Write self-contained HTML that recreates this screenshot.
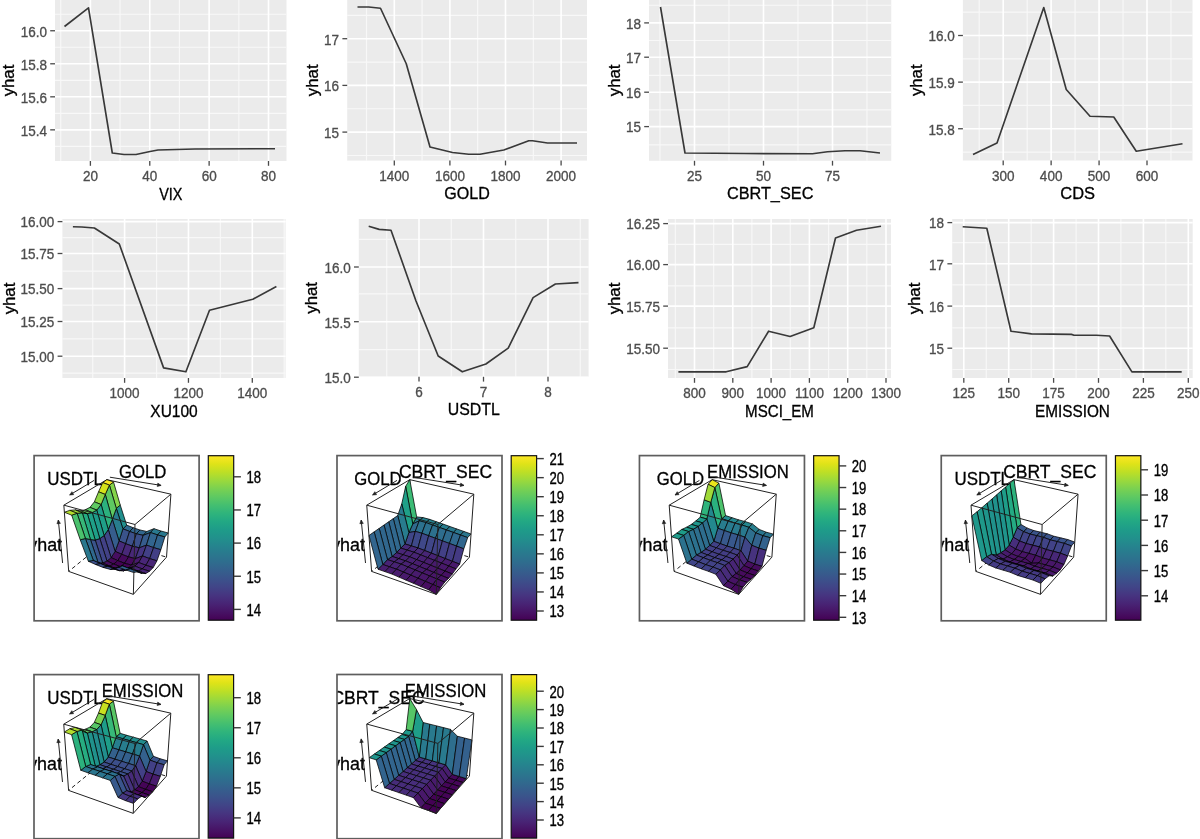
<!DOCTYPE html>
<html><head><meta charset="utf-8"><style>
html,body{margin:0;padding:0;background:#fff;}
svg{display:block;filter:blur(0.3px);}
text{font-family:'Liberation Sans', sans-serif;}
.tk{font-size:13.5px;fill:#4D4D4D;stroke:#4D4D4D;stroke-width:0.3px;}
.ti{font-size:15.6px;fill:#000;stroke:#000;stroke-width:0.3px;}
.yt{font-size:16.8px;fill:#000;stroke:#000;stroke-width:0.3px;}
.cb{font-size:13.1px;fill:#000;stroke:#000;stroke-width:0.3px;}
.lab3{font-size:17.9px;fill:#000;stroke:#000;stroke-width:0.3px;}
</style></head><body>
<svg width="1200" height="839" viewBox="0 0 1200 839">
<defs><linearGradient id="vir" x1="0" y1="1" x2="0" y2="0"><stop offset="0" stop-color="#440154"/><stop offset="0.05" stop-color="#471365"/><stop offset="0.1" stop-color="#482475"/><stop offset="0.15" stop-color="#463480"/><stop offset="0.2" stop-color="#414487"/><stop offset="0.25" stop-color="#3b528b"/><stop offset="0.3" stop-color="#355f8d"/><stop offset="0.35" stop-color="#2f6c8e"/><stop offset="0.4" stop-color="#2a788e"/><stop offset="0.45" stop-color="#25848e"/><stop offset="0.5" stop-color="#21918c"/><stop offset="0.55" stop-color="#1e9c89"/><stop offset="0.6" stop-color="#22a884"/><stop offset="0.65" stop-color="#2fb47c"/><stop offset="0.7" stop-color="#44bf70"/><stop offset="0.75" stop-color="#5ec962"/><stop offset="0.8" stop-color="#7ad151"/><stop offset="0.85" stop-color="#9bd93c"/><stop offset="0.9" stop-color="#bddf26"/><stop offset="0.95" stop-color="#dfe318"/><stop offset="1" stop-color="#fde725"/></linearGradient><clipPath id="clip1"><rect x="34.1" y="455.6" width="165" height="165.2"/></clipPath><clipPath id="clip2"><rect x="337" y="455.6" width="165" height="165.2"/></clipPath><clipPath id="clip3"><rect x="639.45" y="455.6" width="165" height="165.2"/></clipPath><clipPath id="clip4"><rect x="941.25" y="455.6" width="165" height="165.2"/></clipPath><clipPath id="clip5"><rect x="34" y="674.6" width="165" height="164.1"/></clipPath><clipPath id="clip6"><rect x="337" y="674.5" width="165" height="164.2"/></clipPath></defs>
<rect x="55" y="0" width="231.5" height="161" fill="#EBEBEB"/>
<line x1="55" x2="286.5" y1="14.23" y2="14.23" stroke="#f8f8f8" stroke-width="1.15"/>
<line x1="55" x2="286.5" y1="47.27" y2="47.27" stroke="#f8f8f8" stroke-width="1.15"/>
<line x1="55" x2="286.5" y1="80.3" y2="80.3" stroke="#f8f8f8" stroke-width="1.15"/>
<line x1="55" x2="286.5" y1="113.33" y2="113.33" stroke="#f8f8f8" stroke-width="1.15"/>
<line x1="55" x2="286.5" y1="146.37" y2="146.37" stroke="#f8f8f8" stroke-width="1.15"/>
<line y1="0" y2="161" x1="60.72" x2="60.72" stroke="#f8f8f8" stroke-width="1.15"/>
<line y1="0" y2="161" x1="120.08" x2="120.08" stroke="#f8f8f8" stroke-width="1.15"/>
<line y1="0" y2="161" x1="179.45" x2="179.45" stroke="#f8f8f8" stroke-width="1.15"/>
<line y1="0" y2="161" x1="238.82" x2="238.82" stroke="#f8f8f8" stroke-width="1.15"/>
<line x1="55" x2="286.5" y1="30.75" y2="30.75" stroke="#fff" stroke-width="1.6"/>
<line x1="55" x2="286.5" y1="63.78" y2="63.78" stroke="#fff" stroke-width="1.6"/>
<line x1="55" x2="286.5" y1="96.82" y2="96.82" stroke="#fff" stroke-width="1.6"/>
<line x1="55" x2="286.5" y1="129.85" y2="129.85" stroke="#fff" stroke-width="1.6"/>
<line y1="0" y2="161" x1="90.4" x2="90.4" stroke="#fff" stroke-width="1.6"/>
<line y1="0" y2="161" x1="149.77" x2="149.77" stroke="#fff" stroke-width="1.6"/>
<line y1="0" y2="161" x1="209.13" x2="209.13" stroke="#fff" stroke-width="1.6"/>
<line y1="0" y2="161" x1="268.5" x2="268.5" stroke="#fff" stroke-width="1.6"/>
<polyline points="64.5,26.5 88.5,7.8 112.3,153 124,154.5 136,154.5 150,151.5 158,150 195,149 275,148.7" fill="none" stroke="#383838" stroke-width="1.65" stroke-linejoin="round"/>
<line x1="50.2" x2="55" y1="30.75" y2="30.75" stroke="#4a4a4a" stroke-width="1.3"/>
<text transform="translate(46.9,36.55) scale(1,1.07)" text-anchor="end" class="tk">16.0</text>
<line x1="50.2" x2="55" y1="63.78" y2="63.78" stroke="#4a4a4a" stroke-width="1.3"/>
<text transform="translate(46.9,69.58) scale(1,1.07)" text-anchor="end" class="tk">15.8</text>
<line x1="50.2" x2="55" y1="96.82" y2="96.82" stroke="#4a4a4a" stroke-width="1.3"/>
<text transform="translate(46.9,102.62) scale(1,1.07)" text-anchor="end" class="tk">15.6</text>
<line x1="50.2" x2="55" y1="129.85" y2="129.85" stroke="#4a4a4a" stroke-width="1.3"/>
<text transform="translate(46.9,135.65) scale(1,1.07)" text-anchor="end" class="tk">15.4</text>
<line y1="161" y2="165.8" x1="90.4" x2="90.4" stroke="#4a4a4a" stroke-width="1.3"/>
<text transform="translate(90.4,181.4) scale(1,1.07)" text-anchor="middle" class="tk">20</text>
<line y1="161" y2="165.8" x1="149.77" x2="149.77" stroke="#4a4a4a" stroke-width="1.3"/>
<text transform="translate(149.77,181.4) scale(1,1.07)" text-anchor="middle" class="tk">40</text>
<line y1="161" y2="165.8" x1="209.13" x2="209.13" stroke="#4a4a4a" stroke-width="1.3"/>
<text transform="translate(209.13,181.4) scale(1,1.07)" text-anchor="middle" class="tk">60</text>
<line y1="161" y2="165.8" x1="268.5" x2="268.5" stroke="#4a4a4a" stroke-width="1.3"/>
<text transform="translate(268.5,181.4) scale(1,1.07)" text-anchor="middle" class="tk">80</text>
<text transform="translate(170.75,199.6) scale(1,1.1)" text-anchor="middle" class="ti" textLength="23.2" lengthAdjust="spacingAndGlyphs">VIX</text>
<text transform="translate(14,80.5) rotate(-90)" text-anchor="middle" class="yt">yhat</text>
<rect x="347.2" y="0" width="239.8" height="160.6" fill="#EBEBEB"/>
<line x1="347.2" x2="587" y1="15.35" y2="15.35" stroke="#f8f8f8" stroke-width="1.15"/>
<line x1="347.2" x2="587" y1="62.05" y2="62.05" stroke="#f8f8f8" stroke-width="1.15"/>
<line x1="347.2" x2="587" y1="108.75" y2="108.75" stroke="#f8f8f8" stroke-width="1.15"/>
<line x1="347.2" x2="587" y1="155.45" y2="155.45" stroke="#f8f8f8" stroke-width="1.15"/>
<line y1="0" y2="160.6" x1="366.5" x2="366.5" stroke="#f8f8f8" stroke-width="1.15"/>
<line y1="0" y2="160.6" x1="422.1" x2="422.1" stroke="#f8f8f8" stroke-width="1.15"/>
<line y1="0" y2="160.6" x1="477.7" x2="477.7" stroke="#f8f8f8" stroke-width="1.15"/>
<line y1="0" y2="160.6" x1="533.3" x2="533.3" stroke="#f8f8f8" stroke-width="1.15"/>
<line x1="347.2" x2="587" y1="38.7" y2="38.7" stroke="#fff" stroke-width="1.6"/>
<line x1="347.2" x2="587" y1="85.4" y2="85.4" stroke="#fff" stroke-width="1.6"/>
<line x1="347.2" x2="587" y1="132.1" y2="132.1" stroke="#fff" stroke-width="1.6"/>
<line y1="0" y2="160.6" x1="394.3" x2="394.3" stroke="#fff" stroke-width="1.6"/>
<line y1="0" y2="160.6" x1="449.9" x2="449.9" stroke="#fff" stroke-width="1.6"/>
<line y1="0" y2="160.6" x1="505.5" x2="505.5" stroke="#fff" stroke-width="1.6"/>
<line y1="0" y2="160.6" x1="561.1" x2="561.1" stroke="#fff" stroke-width="1.6"/>
<polyline points="357.5,7 368.75,7 380.5,8.25 406.25,63.75 430,147 452.5,152.5 468.75,154.25 480,154.25 503.75,150 528.75,140.75 532.5,140.75 547.5,143 577,143" fill="none" stroke="#383838" stroke-width="1.65" stroke-linejoin="round"/>
<line x1="342.4" x2="347.2" y1="38.7" y2="38.7" stroke="#4a4a4a" stroke-width="1.3"/>
<text transform="translate(339.1,44.5) scale(1,1.07)" text-anchor="end" class="tk">17</text>
<line x1="342.4" x2="347.2" y1="85.4" y2="85.4" stroke="#4a4a4a" stroke-width="1.3"/>
<text transform="translate(339.1,91.2) scale(1,1.07)" text-anchor="end" class="tk">16</text>
<line x1="342.4" x2="347.2" y1="132.1" y2="132.1" stroke="#4a4a4a" stroke-width="1.3"/>
<text transform="translate(339.1,137.9) scale(1,1.07)" text-anchor="end" class="tk">15</text>
<line y1="160.6" y2="165.4" x1="394.3" x2="394.3" stroke="#4a4a4a" stroke-width="1.3"/>
<text transform="translate(394.3,181) scale(1,1.07)" text-anchor="middle" class="tk">1400</text>
<line y1="160.6" y2="165.4" x1="449.9" x2="449.9" stroke="#4a4a4a" stroke-width="1.3"/>
<text transform="translate(449.9,181) scale(1,1.07)" text-anchor="middle" class="tk">1600</text>
<line y1="160.6" y2="165.4" x1="505.5" x2="505.5" stroke="#4a4a4a" stroke-width="1.3"/>
<text transform="translate(505.5,181) scale(1,1.07)" text-anchor="middle" class="tk">1800</text>
<line y1="160.6" y2="165.4" x1="561.1" x2="561.1" stroke="#4a4a4a" stroke-width="1.3"/>
<text transform="translate(561.1,181) scale(1,1.07)" text-anchor="middle" class="tk">2000</text>
<text transform="translate(467.1,199.2) scale(1,1.1)" text-anchor="middle" class="ti" textLength="45.5" lengthAdjust="spacingAndGlyphs">GOLD</text>
<text transform="translate(317.5,80.3) rotate(-90)" text-anchor="middle" class="yt">yhat</text>
<rect x="649" y="0" width="242.25" height="160.8" fill="#EBEBEB"/>
<line x1="649" x2="891.25" y1="5.2" y2="5.2" stroke="#f8f8f8" stroke-width="1.15"/>
<line x1="649" x2="891.25" y1="40.5" y2="40.5" stroke="#f8f8f8" stroke-width="1.15"/>
<line x1="649" x2="891.25" y1="75.3" y2="75.3" stroke="#f8f8f8" stroke-width="1.15"/>
<line x1="649" x2="891.25" y1="109.9" y2="109.9" stroke="#f8f8f8" stroke-width="1.15"/>
<line x1="649" x2="891.25" y1="144.8" y2="144.8" stroke="#f8f8f8" stroke-width="1.15"/>
<line y1="0" y2="160.8" x1="660" x2="660" stroke="#f8f8f8" stroke-width="1.15"/>
<line y1="0" y2="160.8" x1="729" x2="729" stroke="#f8f8f8" stroke-width="1.15"/>
<line y1="0" y2="160.8" x1="798" x2="798" stroke="#f8f8f8" stroke-width="1.15"/>
<line y1="0" y2="160.8" x1="867" x2="867" stroke="#f8f8f8" stroke-width="1.15"/>
<line x1="649" x2="891.25" y1="22.9" y2="22.9" stroke="#fff" stroke-width="1.6"/>
<line x1="649" x2="891.25" y1="57.2" y2="57.2" stroke="#fff" stroke-width="1.6"/>
<line x1="649" x2="891.25" y1="92.2" y2="92.2" stroke="#fff" stroke-width="1.6"/>
<line x1="649" x2="891.25" y1="126.6" y2="126.6" stroke="#fff" stroke-width="1.6"/>
<line y1="0" y2="160.8" x1="694.5" x2="694.5" stroke="#fff" stroke-width="1.6"/>
<line y1="0" y2="160.8" x1="763.5" x2="763.5" stroke="#fff" stroke-width="1.6"/>
<line y1="0" y2="160.8" x1="832.5" x2="832.5" stroke="#fff" stroke-width="1.6"/>
<polyline points="660.5,7 685,153 745,153.5 812.5,153.75 827.5,151.75 845,150.75 860,150.75 880,153" fill="none" stroke="#383838" stroke-width="1.65" stroke-linejoin="round"/>
<line x1="644.2" x2="649" y1="22.9" y2="22.9" stroke="#4a4a4a" stroke-width="1.3"/>
<text transform="translate(640.9,28.7) scale(1,1.07)" text-anchor="end" class="tk">18</text>
<line x1="644.2" x2="649" y1="57.2" y2="57.2" stroke="#4a4a4a" stroke-width="1.3"/>
<text transform="translate(640.9,63) scale(1,1.07)" text-anchor="end" class="tk">17</text>
<line x1="644.2" x2="649" y1="92.2" y2="92.2" stroke="#4a4a4a" stroke-width="1.3"/>
<text transform="translate(640.9,98) scale(1,1.07)" text-anchor="end" class="tk">16</text>
<line x1="644.2" x2="649" y1="126.6" y2="126.6" stroke="#4a4a4a" stroke-width="1.3"/>
<text transform="translate(640.9,132.4) scale(1,1.07)" text-anchor="end" class="tk">15</text>
<line y1="160.8" y2="165.6" x1="694.5" x2="694.5" stroke="#4a4a4a" stroke-width="1.3"/>
<text transform="translate(694.5,181.2) scale(1,1.07)" text-anchor="middle" class="tk">25</text>
<line y1="160.8" y2="165.6" x1="763.5" x2="763.5" stroke="#4a4a4a" stroke-width="1.3"/>
<text transform="translate(763.5,181.2) scale(1,1.07)" text-anchor="middle" class="tk">50</text>
<line y1="160.8" y2="165.6" x1="832.5" x2="832.5" stroke="#4a4a4a" stroke-width="1.3"/>
<text transform="translate(832.5,181.2) scale(1,1.07)" text-anchor="middle" class="tk">75</text>
<text transform="translate(770.12,199.4) scale(1,1.1)" text-anchor="middle" class="ti" textLength="86.5" lengthAdjust="spacingAndGlyphs">CBRT_SEC</text>
<text transform="translate(619.5,80.4) rotate(-90)" text-anchor="middle" class="yt">yhat</text>
<rect x="962.9" y="0" width="229.6" height="160.5" fill="#EBEBEB"/>
<line x1="962.9" x2="1192.5" y1="12.19" y2="12.19" stroke="#f8f8f8" stroke-width="1.15"/>
<line x1="962.9" x2="1192.5" y1="58.81" y2="58.81" stroke="#f8f8f8" stroke-width="1.15"/>
<line x1="962.9" x2="1192.5" y1="105.44" y2="105.44" stroke="#f8f8f8" stroke-width="1.15"/>
<line x1="962.9" x2="1192.5" y1="152.06" y2="152.06" stroke="#f8f8f8" stroke-width="1.15"/>
<line y1="0" y2="160.5" x1="979.23" x2="979.23" stroke="#f8f8f8" stroke-width="1.15"/>
<line y1="0" y2="160.5" x1="1027.17" x2="1027.17" stroke="#f8f8f8" stroke-width="1.15"/>
<line y1="0" y2="160.5" x1="1075.1" x2="1075.1" stroke="#f8f8f8" stroke-width="1.15"/>
<line y1="0" y2="160.5" x1="1123.03" x2="1123.03" stroke="#f8f8f8" stroke-width="1.15"/>
<line y1="0" y2="160.5" x1="1170.97" x2="1170.97" stroke="#f8f8f8" stroke-width="1.15"/>
<line x1="962.9" x2="1192.5" y1="35.5" y2="35.5" stroke="#fff" stroke-width="1.6"/>
<line x1="962.9" x2="1192.5" y1="82.12" y2="82.12" stroke="#fff" stroke-width="1.6"/>
<line x1="962.9" x2="1192.5" y1="128.75" y2="128.75" stroke="#fff" stroke-width="1.6"/>
<line y1="0" y2="160.5" x1="1003.2" x2="1003.2" stroke="#fff" stroke-width="1.6"/>
<line y1="0" y2="160.5" x1="1051.13" x2="1051.13" stroke="#fff" stroke-width="1.6"/>
<line y1="0" y2="160.5" x1="1099.07" x2="1099.07" stroke="#fff" stroke-width="1.6"/>
<line y1="0" y2="160.5" x1="1147" x2="1147" stroke="#fff" stroke-width="1.6"/>
<polyline points="973,154.5 997,143 1043.75,7.5 1066.25,89.5 1090,116.25 1113.75,117 1136.25,151.25 1182.5,143.75" fill="none" stroke="#383838" stroke-width="1.65" stroke-linejoin="round"/>
<line x1="958.1" x2="962.9" y1="35.5" y2="35.5" stroke="#4a4a4a" stroke-width="1.3"/>
<text transform="translate(954.8,41.3) scale(1,1.07)" text-anchor="end" class="tk">16.0</text>
<line x1="958.1" x2="962.9" y1="82.12" y2="82.12" stroke="#4a4a4a" stroke-width="1.3"/>
<text transform="translate(954.8,87.92) scale(1,1.07)" text-anchor="end" class="tk">15.9</text>
<line x1="958.1" x2="962.9" y1="128.75" y2="128.75" stroke="#4a4a4a" stroke-width="1.3"/>
<text transform="translate(954.8,134.55) scale(1,1.07)" text-anchor="end" class="tk">15.8</text>
<line y1="160.5" y2="165.3" x1="1003.2" x2="1003.2" stroke="#4a4a4a" stroke-width="1.3"/>
<text transform="translate(1003.2,180.9) scale(1,1.07)" text-anchor="middle" class="tk">300</text>
<line y1="160.5" y2="165.3" x1="1051.13" x2="1051.13" stroke="#4a4a4a" stroke-width="1.3"/>
<text transform="translate(1051.13,180.9) scale(1,1.07)" text-anchor="middle" class="tk">400</text>
<line y1="160.5" y2="165.3" x1="1099.07" x2="1099.07" stroke="#4a4a4a" stroke-width="1.3"/>
<text transform="translate(1099.07,180.9) scale(1,1.07)" text-anchor="middle" class="tk">500</text>
<line y1="160.5" y2="165.3" x1="1147" x2="1147" stroke="#4a4a4a" stroke-width="1.3"/>
<text transform="translate(1147,180.9) scale(1,1.07)" text-anchor="middle" class="tk">600</text>
<text transform="translate(1077.7,199.1) scale(1,1.1)" text-anchor="middle" class="ti" textLength="34.7" lengthAdjust="spacingAndGlyphs">CDS</text>
<text transform="translate(921.5,80.25) rotate(-90)" text-anchor="middle" class="yt">yhat</text>
<rect x="62.4" y="219" width="223.2" height="159" fill="#EBEBEB"/>
<line x1="62.4" x2="285.6" y1="237.55" y2="237.55" stroke="#f8f8f8" stroke-width="1.15"/>
<line x1="62.4" x2="285.6" y1="271.05" y2="271.05" stroke="#f8f8f8" stroke-width="1.15"/>
<line x1="62.4" x2="285.6" y1="305.05" y2="305.05" stroke="#f8f8f8" stroke-width="1.15"/>
<line x1="62.4" x2="285.6" y1="338.85" y2="338.85" stroke="#f8f8f8" stroke-width="1.15"/>
<line x1="62.4" x2="285.6" y1="373.1" y2="373.1" stroke="#f8f8f8" stroke-width="1.15"/>
<line y1="219" y2="378" x1="92.67" x2="92.67" stroke="#f8f8f8" stroke-width="1.15"/>
<line y1="219" y2="378" x1="156.53" x2="156.53" stroke="#f8f8f8" stroke-width="1.15"/>
<line y1="219" y2="378" x1="220.38" x2="220.38" stroke="#f8f8f8" stroke-width="1.15"/>
<line y1="219" y2="378" x1="284.23" x2="284.23" stroke="#f8f8f8" stroke-width="1.15"/>
<line x1="62.4" x2="285.6" y1="221.6" y2="221.6" stroke="#fff" stroke-width="1.6"/>
<line x1="62.4" x2="285.6" y1="253.5" y2="253.5" stroke="#fff" stroke-width="1.6"/>
<line x1="62.4" x2="285.6" y1="288.6" y2="288.6" stroke="#fff" stroke-width="1.6"/>
<line x1="62.4" x2="285.6" y1="321.5" y2="321.5" stroke="#fff" stroke-width="1.6"/>
<line x1="62.4" x2="285.6" y1="356.2" y2="356.2" stroke="#fff" stroke-width="1.6"/>
<line y1="219" y2="378" x1="124.6" x2="124.6" stroke="#fff" stroke-width="1.6"/>
<line y1="219" y2="378" x1="188.45" x2="188.45" stroke="#fff" stroke-width="1.6"/>
<line y1="219" y2="378" x1="252.3" x2="252.3" stroke="#fff" stroke-width="1.6"/>
<polyline points="72.9,226.75 81.8,227 94.4,228 119.3,244 163.6,367.9 185.9,371.8 209.5,310.2 252.8,299.2 276.4,286.6" fill="none" stroke="#383838" stroke-width="1.65" stroke-linejoin="round"/>
<line x1="57.6" x2="62.4" y1="221.6" y2="221.6" stroke="#4a4a4a" stroke-width="1.3"/>
<text transform="translate(54.3,227.4) scale(1,1.07)" text-anchor="end" class="tk">16.00</text>
<line x1="57.6" x2="62.4" y1="253.5" y2="253.5" stroke="#4a4a4a" stroke-width="1.3"/>
<text transform="translate(54.3,259.3) scale(1,1.07)" text-anchor="end" class="tk">15.75</text>
<line x1="57.6" x2="62.4" y1="288.6" y2="288.6" stroke="#4a4a4a" stroke-width="1.3"/>
<text transform="translate(54.3,294.4) scale(1,1.07)" text-anchor="end" class="tk">15.50</text>
<line x1="57.6" x2="62.4" y1="321.5" y2="321.5" stroke="#4a4a4a" stroke-width="1.3"/>
<text transform="translate(54.3,327.3) scale(1,1.07)" text-anchor="end" class="tk">15.25</text>
<line x1="57.6" x2="62.4" y1="356.2" y2="356.2" stroke="#4a4a4a" stroke-width="1.3"/>
<text transform="translate(54.3,362) scale(1,1.07)" text-anchor="end" class="tk">15.00</text>
<line y1="378" y2="382.8" x1="124.6" x2="124.6" stroke="#4a4a4a" stroke-width="1.3"/>
<text transform="translate(124.6,398.4) scale(1,1.07)" text-anchor="middle" class="tk">1000</text>
<line y1="378" y2="382.8" x1="188.45" x2="188.45" stroke="#4a4a4a" stroke-width="1.3"/>
<text transform="translate(188.45,398.4) scale(1,1.07)" text-anchor="middle" class="tk">1200</text>
<line y1="378" y2="382.8" x1="252.3" x2="252.3" stroke="#4a4a4a" stroke-width="1.3"/>
<text transform="translate(252.3,398.4) scale(1,1.07)" text-anchor="middle" class="tk">1400</text>
<text transform="translate(174,416.6) scale(1,1.1)" text-anchor="middle" class="ti" textLength="47.4" lengthAdjust="spacingAndGlyphs">XU100</text>
<text transform="translate(14.5,298.5) rotate(-90)" text-anchor="middle" class="yt">yhat</text>
<rect x="358.8" y="219" width="229.8" height="157.8" fill="#EBEBEB"/>
<line x1="358.8" x2="588.6" y1="239.3" y2="239.3" stroke="#f8f8f8" stroke-width="1.15"/>
<line x1="358.8" x2="588.6" y1="293.9" y2="293.9" stroke="#f8f8f8" stroke-width="1.15"/>
<line x1="358.8" x2="588.6" y1="349.6" y2="349.6" stroke="#f8f8f8" stroke-width="1.15"/>
<line y1="219" y2="376.8" x1="386.75" x2="386.75" stroke="#f8f8f8" stroke-width="1.15"/>
<line y1="219" y2="376.8" x1="451.25" x2="451.25" stroke="#f8f8f8" stroke-width="1.15"/>
<line y1="219" y2="376.8" x1="515.75" x2="515.75" stroke="#f8f8f8" stroke-width="1.15"/>
<line y1="219" y2="376.8" x1="580.25" x2="580.25" stroke="#f8f8f8" stroke-width="1.15"/>
<line x1="358.8" x2="588.6" y1="267" y2="267" stroke="#fff" stroke-width="1.6"/>
<line x1="358.8" x2="588.6" y1="321.7" y2="321.7" stroke="#fff" stroke-width="1.6"/>
<line x1="358.8" x2="588.6" y1="377.2" y2="377.2" stroke="#fff" stroke-width="1.6"/>
<line y1="219" y2="376.8" x1="419" x2="419" stroke="#fff" stroke-width="1.6"/>
<line y1="219" y2="376.8" x1="483.5" x2="483.5" stroke="#fff" stroke-width="1.6"/>
<line y1="219" y2="376.8" x1="548" x2="548" stroke="#fff" stroke-width="1.6"/>
<polyline points="368.7,226.2 379.2,229.4 391,230.2 416,301 438.2,356 462.3,371.8 485.9,364 508.2,348.2 533.1,297.6 555.4,284 578.5,282.6" fill="none" stroke="#383838" stroke-width="1.65" stroke-linejoin="round"/>
<line x1="354" x2="358.8" y1="267" y2="267" stroke="#4a4a4a" stroke-width="1.3"/>
<text transform="translate(350.7,272.8) scale(1,1.07)" text-anchor="end" class="tk">16.0</text>
<line x1="354" x2="358.8" y1="321.7" y2="321.7" stroke="#4a4a4a" stroke-width="1.3"/>
<text transform="translate(350.7,327.5) scale(1,1.07)" text-anchor="end" class="tk">15.5</text>
<line x1="354" x2="358.8" y1="377.2" y2="377.2" stroke="#4a4a4a" stroke-width="1.3"/>
<text transform="translate(350.7,383) scale(1,1.07)" text-anchor="end" class="tk">15.0</text>
<line y1="376.8" y2="381.6" x1="419" x2="419" stroke="#4a4a4a" stroke-width="1.3"/>
<text transform="translate(419,397.2) scale(1,1.07)" text-anchor="middle" class="tk">6</text>
<line y1="376.8" y2="381.6" x1="483.5" x2="483.5" stroke="#4a4a4a" stroke-width="1.3"/>
<text transform="translate(483.5,397.2) scale(1,1.07)" text-anchor="middle" class="tk">7</text>
<line y1="376.8" y2="381.6" x1="548" x2="548" stroke="#4a4a4a" stroke-width="1.3"/>
<text transform="translate(548,397.2) scale(1,1.07)" text-anchor="middle" class="tk">8</text>
<text transform="translate(473.7,415.4) scale(1,1.1)" text-anchor="middle" class="ti" textLength="52.0" lengthAdjust="spacingAndGlyphs">USDTL</text>
<text transform="translate(317,297.9) rotate(-90)" text-anchor="middle" class="yt">yhat</text>
<rect x="668" y="219" width="223" height="159" fill="#EBEBEB"/>
<line x1="668" x2="891" y1="244.4" y2="244.4" stroke="#f8f8f8" stroke-width="1.15"/>
<line x1="668" x2="891" y1="285.9" y2="285.9" stroke="#f8f8f8" stroke-width="1.15"/>
<line x1="668" x2="891" y1="327.9" y2="327.9" stroke="#f8f8f8" stroke-width="1.15"/>
<line x1="668" x2="891" y1="369.5" y2="369.5" stroke="#f8f8f8" stroke-width="1.15"/>
<line y1="219" y2="378" x1="675.35" x2="675.35" stroke="#f8f8f8" stroke-width="1.15"/>
<line y1="219" y2="378" x1="713.65" x2="713.65" stroke="#f8f8f8" stroke-width="1.15"/>
<line y1="219" y2="378" x1="751.95" x2="751.95" stroke="#f8f8f8" stroke-width="1.15"/>
<line y1="219" y2="378" x1="790.25" x2="790.25" stroke="#f8f8f8" stroke-width="1.15"/>
<line y1="219" y2="378" x1="828.55" x2="828.55" stroke="#f8f8f8" stroke-width="1.15"/>
<line y1="219" y2="378" x1="866.85" x2="866.85" stroke="#f8f8f8" stroke-width="1.15"/>
<line x1="668" x2="891" y1="223.6" y2="223.6" stroke="#fff" stroke-width="1.6"/>
<line x1="668" x2="891" y1="264.6" y2="264.6" stroke="#fff" stroke-width="1.6"/>
<line x1="668" x2="891" y1="306.1" y2="306.1" stroke="#fff" stroke-width="1.6"/>
<line x1="668" x2="891" y1="348.2" y2="348.2" stroke="#fff" stroke-width="1.6"/>
<line y1="219" y2="378" x1="694.5" x2="694.5" stroke="#fff" stroke-width="1.6"/>
<line y1="219" y2="378" x1="732.8" x2="732.8" stroke="#fff" stroke-width="1.6"/>
<line y1="219" y2="378" x1="771.1" x2="771.1" stroke="#fff" stroke-width="1.6"/>
<line y1="219" y2="378" x1="809.4" x2="809.4" stroke="#fff" stroke-width="1.6"/>
<line y1="219" y2="378" x1="847.7" x2="847.7" stroke="#fff" stroke-width="1.6"/>
<line y1="219" y2="378" x1="886" x2="886" stroke="#fff" stroke-width="1.6"/>
<polyline points="678.4,371.8 726.2,371.8 747.2,366.6 768.6,331.2 790.1,336.5 813.8,327.8 835.5,238 856.5,230.2 881,226.2" fill="none" stroke="#383838" stroke-width="1.65" stroke-linejoin="round"/>
<line x1="663.2" x2="668" y1="223.6" y2="223.6" stroke="#4a4a4a" stroke-width="1.3"/>
<text transform="translate(659.9,229.4) scale(1,1.07)" text-anchor="end" class="tk">16.25</text>
<line x1="663.2" x2="668" y1="264.6" y2="264.6" stroke="#4a4a4a" stroke-width="1.3"/>
<text transform="translate(659.9,270.4) scale(1,1.07)" text-anchor="end" class="tk">16.00</text>
<line x1="663.2" x2="668" y1="306.1" y2="306.1" stroke="#4a4a4a" stroke-width="1.3"/>
<text transform="translate(659.9,311.9) scale(1,1.07)" text-anchor="end" class="tk">15.75</text>
<line x1="663.2" x2="668" y1="348.2" y2="348.2" stroke="#4a4a4a" stroke-width="1.3"/>
<text transform="translate(659.9,354) scale(1,1.07)" text-anchor="end" class="tk">15.50</text>
<line y1="378" y2="382.8" x1="694.5" x2="694.5" stroke="#4a4a4a" stroke-width="1.3"/>
<text transform="translate(694.5,398.4) scale(1,1.07)" text-anchor="middle" class="tk">800</text>
<line y1="378" y2="382.8" x1="732.8" x2="732.8" stroke="#4a4a4a" stroke-width="1.3"/>
<text transform="translate(732.8,398.4) scale(1,1.07)" text-anchor="middle" class="tk">900</text>
<line y1="378" y2="382.8" x1="771.1" x2="771.1" stroke="#4a4a4a" stroke-width="1.3"/>
<text transform="translate(771.1,398.4) scale(1,1.07)" text-anchor="middle" class="tk">1000</text>
<line y1="378" y2="382.8" x1="809.4" x2="809.4" stroke="#4a4a4a" stroke-width="1.3"/>
<text transform="translate(809.4,398.4) scale(1,1.07)" text-anchor="middle" class="tk">1100</text>
<line y1="378" y2="382.8" x1="847.7" x2="847.7" stroke="#4a4a4a" stroke-width="1.3"/>
<text transform="translate(847.7,398.4) scale(1,1.07)" text-anchor="middle" class="tk">1200</text>
<line y1="378" y2="382.8" x1="886" x2="886" stroke="#4a4a4a" stroke-width="1.3"/>
<text transform="translate(886,398.4) scale(1,1.07)" text-anchor="middle" class="tk">1300</text>
<text transform="translate(779.5,416.6) scale(1,1.1)" text-anchor="middle" class="ti" textLength="68.8" lengthAdjust="spacingAndGlyphs">MSCI_EM</text>
<text transform="translate(620,298.5) rotate(-90)" text-anchor="middle" class="yt">yhat</text>
<rect x="952.2" y="219" width="240.5" height="159" fill="#EBEBEB"/>
<line x1="952.2" x2="1192.7" y1="242.6" y2="242.6" stroke="#f8f8f8" stroke-width="1.15"/>
<line x1="952.2" x2="1192.7" y1="284.9" y2="284.9" stroke="#f8f8f8" stroke-width="1.15"/>
<line x1="952.2" x2="1192.7" y1="327.9" y2="327.9" stroke="#f8f8f8" stroke-width="1.15"/>
<line x1="952.2" x2="1192.7" y1="369.5" y2="369.5" stroke="#f8f8f8" stroke-width="1.15"/>
<line y1="219" y2="378" x1="986.25" x2="986.25" stroke="#f8f8f8" stroke-width="1.15"/>
<line y1="219" y2="378" x1="1031.15" x2="1031.15" stroke="#f8f8f8" stroke-width="1.15"/>
<line y1="219" y2="378" x1="1076.05" x2="1076.05" stroke="#f8f8f8" stroke-width="1.15"/>
<line y1="219" y2="378" x1="1120.95" x2="1120.95" stroke="#f8f8f8" stroke-width="1.15"/>
<line y1="219" y2="378" x1="1165.85" x2="1165.85" stroke="#f8f8f8" stroke-width="1.15"/>
<line x1="952.2" x2="1192.7" y1="222.6" y2="222.6" stroke="#fff" stroke-width="1.6"/>
<line x1="952.2" x2="1192.7" y1="263.8" y2="263.8" stroke="#fff" stroke-width="1.6"/>
<line x1="952.2" x2="1192.7" y1="306.1" y2="306.1" stroke="#fff" stroke-width="1.6"/>
<line x1="952.2" x2="1192.7" y1="348.2" y2="348.2" stroke="#fff" stroke-width="1.6"/>
<line y1="219" y2="378" x1="963.8" x2="963.8" stroke="#fff" stroke-width="1.6"/>
<line y1="219" y2="378" x1="1008.7" x2="1008.7" stroke="#fff" stroke-width="1.6"/>
<line y1="219" y2="378" x1="1053.6" x2="1053.6" stroke="#fff" stroke-width="1.6"/>
<line y1="219" y2="378" x1="1098.5" x2="1098.5" stroke="#fff" stroke-width="1.6"/>
<line y1="219" y2="378" x1="1143.4" x2="1143.4" stroke="#fff" stroke-width="1.6"/>
<line y1="219" y2="378" x1="1188.3" x2="1188.3" stroke="#fff" stroke-width="1.6"/>
<polyline points="962.7,226.8 986.8,228.3 1011,331.2 1031.5,333.9 1071.5,334.4 1074,335.2 1096.4,335.2 1109.6,336 1131.9,371.9 1181.7,371.9" fill="none" stroke="#383838" stroke-width="1.65" stroke-linejoin="round"/>
<line x1="947.4" x2="952.2" y1="222.6" y2="222.6" stroke="#4a4a4a" stroke-width="1.3"/>
<text transform="translate(944.1,228.4) scale(1,1.07)" text-anchor="end" class="tk">18</text>
<line x1="947.4" x2="952.2" y1="263.8" y2="263.8" stroke="#4a4a4a" stroke-width="1.3"/>
<text transform="translate(944.1,269.6) scale(1,1.07)" text-anchor="end" class="tk">17</text>
<line x1="947.4" x2="952.2" y1="306.1" y2="306.1" stroke="#4a4a4a" stroke-width="1.3"/>
<text transform="translate(944.1,311.9) scale(1,1.07)" text-anchor="end" class="tk">16</text>
<line x1="947.4" x2="952.2" y1="348.2" y2="348.2" stroke="#4a4a4a" stroke-width="1.3"/>
<text transform="translate(944.1,354) scale(1,1.07)" text-anchor="end" class="tk">15</text>
<line y1="378" y2="382.8" x1="963.8" x2="963.8" stroke="#4a4a4a" stroke-width="1.3"/>
<text transform="translate(963.8,398.4) scale(1,1.07)" text-anchor="middle" class="tk">125</text>
<line y1="378" y2="382.8" x1="1008.7" x2="1008.7" stroke="#4a4a4a" stroke-width="1.3"/>
<text transform="translate(1008.7,398.4) scale(1,1.07)" text-anchor="middle" class="tk">150</text>
<line y1="378" y2="382.8" x1="1053.6" x2="1053.6" stroke="#4a4a4a" stroke-width="1.3"/>
<text transform="translate(1053.6,398.4) scale(1,1.07)" text-anchor="middle" class="tk">175</text>
<line y1="378" y2="382.8" x1="1098.5" x2="1098.5" stroke="#4a4a4a" stroke-width="1.3"/>
<text transform="translate(1098.5,398.4) scale(1,1.07)" text-anchor="middle" class="tk">200</text>
<line y1="378" y2="382.8" x1="1143.4" x2="1143.4" stroke="#4a4a4a" stroke-width="1.3"/>
<text transform="translate(1143.4,398.4) scale(1,1.07)" text-anchor="middle" class="tk">225</text>
<line y1="378" y2="382.8" x1="1188.3" x2="1188.3" stroke="#4a4a4a" stroke-width="1.3"/>
<text transform="translate(1188.3,398.4) scale(1,1.07)" text-anchor="middle" class="tk">250</text>
<text transform="translate(1072.45,416.6) scale(1,1.1)" text-anchor="middle" class="ti" textLength="74.8" lengthAdjust="spacingAndGlyphs">EMISSION</text>
<text transform="translate(920,298.5) rotate(-90)" text-anchor="middle" class="yt">yhat</text>
<g clip-path="url(#clip1)">
<text transform="translate(75.1,484.6) scale(1,1.06)" text-anchor="middle" class="lab3" textLength="55.5" lengthAdjust="spacingAndGlyphs">USDTL</text>
<text transform="translate(142.6,478.3) scale(1,1.06)" text-anchor="middle" class="lab3" textLength="47.3" lengthAdjust="spacingAndGlyphs">GOLD</text>
<text transform="translate(62.1,550.6) scale(1,1.06)" text-anchor="end" class="lab3">yhat</text>
<line x1="94.1" y1="480.4" x2="69.7" y2="495" stroke="#222" stroke-width="1.0"/><polygon points="73.68,494.64 69.7,495 71.9,491.66" fill="#222" stroke="#222" stroke-width="0.6"/>
<line x1="109.9" y1="477.2" x2="161.1" y2="485.4" stroke="#222" stroke-width="1.0"/><polygon points="157.82,483.11 161.1,485.4 157.27,486.55" fill="#222" stroke="#222" stroke-width="0.6"/>
<line x1="62.6" y1="563" x2="58.3" y2="520" stroke="#222" stroke-width="1.0"/><polygon points="56.93,523.76 58.3,520 60.39,523.41" fill="#222" stroke="#222" stroke-width="0.6"/>
<line x1="107.77" y1="539.56" x2="68.69" y2="571.4" stroke="#222" stroke-width="1.0" stroke-dasharray="4,3"/>
<line x1="107.77" y1="539.56" x2="166.53" y2="557.14" stroke="#222" stroke-width="1.0" stroke-dasharray="4,3"/>
<line x1="107.77" y1="539.56" x2="106.88" y2="479.67" stroke="#222" stroke-width="1.0" stroke-dasharray="4,3"/>
<line x1="106.88" y1="479.67" x2="63.85" y2="505.16" stroke="#222" stroke-width="1.0"/>
<line x1="106.88" y1="479.67" x2="170.9" y2="494.17" stroke="#222" stroke-width="1.0"/>
<polygon points="126.69,525.1 122.92,528.79 129.58,531.47 133.29,527.72" fill="#30698e" stroke="#000" stroke-width="0.75" stroke-linejoin="round"/>
<polygon points="120.24,505 116.3,508.41 122.92,528.79 126.69,525.1" fill="#218f8d" stroke="#000" stroke-width="0.75" stroke-linejoin="round"/>
<polygon points="133.29,527.72 129.58,531.47 136.34,533.79 139.98,529.98" fill="#31668e" stroke="#000" stroke-width="0.75" stroke-linejoin="round"/>
<polygon points="122.92,528.79 119.03,540.9 125.68,543.74 129.58,531.47" fill="#3a538b" stroke="#000" stroke-width="0.75" stroke-linejoin="round"/>
<polygon points="119.03,540.9 115.12,551.39 121.77,554.33 125.68,543.74" fill="#472a7a" stroke="#000" stroke-width="0.75" stroke-linejoin="round"/>
<polygon points="116.3,508.41 112.32,519.29 119.03,540.9 122.92,528.79" fill="#287d8e" stroke="#000" stroke-width="0.75" stroke-linejoin="round"/>
<polygon points="139.98,529.98 136.34,533.79 143.23,535.32 146.8,531.46" fill="#31668e" stroke="#000" stroke-width="0.75" stroke-linejoin="round"/>
<polygon points="129.58,531.47 125.68,543.74 132.43,546.18 136.34,533.79" fill="#3c508b" stroke="#000" stroke-width="0.75" stroke-linejoin="round"/>
<polygon points="112.32,519.29 108.29,529.59 115.12,551.39 119.03,540.9" fill="#365d8d" stroke="#000" stroke-width="0.75" stroke-linejoin="round"/>
<polygon points="125.68,543.74 121.77,554.33 128.52,556.87 132.43,546.18" fill="#482878" stroke="#000" stroke-width="0.75" stroke-linejoin="round"/>
<polygon points="115.12,551.39 111.12,557.66 117.82,560.68 121.77,554.33" fill="#470e61" stroke="#000" stroke-width="0.75" stroke-linejoin="round"/>
<polygon points="136.34,533.79 132.43,546.18 139.3,547.8 143.23,535.32" fill="#3c508b" stroke="#000" stroke-width="0.75" stroke-linejoin="round"/>
<polygon points="113.54,482.01 109.42,485.09 116.3,508.41 120.24,505" fill="#84d44b" stroke="#000" stroke-width="0.75" stroke-linejoin="round"/>
<polygon points="146.8,531.46 143.23,535.32 150.44,532.54 153.96,528.67" fill="#2d718e" stroke="#000" stroke-width="0.75" stroke-linejoin="round"/>
<polygon points="108.29,529.59 104.12,535.57 111.12,557.66 115.12,551.39" fill="#404688" stroke="#000" stroke-width="0.75" stroke-linejoin="round"/>
<polygon points="132.43,546.18 128.52,556.87 135.4,558.58 139.3,547.8" fill="#482878" stroke="#000" stroke-width="0.75" stroke-linejoin="round"/>
<polygon points="121.77,554.33 117.82,560.68 124.62,563.3 128.52,556.87" fill="#460a5d" stroke="#000" stroke-width="0.75" stroke-linejoin="round"/>
<polygon points="106.88,479.63 102.7,482.64 109.42,485.09 113.54,482.01" fill="#f8e621" stroke="#000" stroke-width="0.75" stroke-linejoin="round"/>
<polygon points="111.12,557.66 106.97,560.99 113.75,564.08 117.82,560.68" fill="#46075a" stroke="#000" stroke-width="0.75" stroke-linejoin="round"/>
<polygon points="109.42,485.09 105.29,494.44 112.32,519.29 116.3,508.41" fill="#5ec962" stroke="#000" stroke-width="0.75" stroke-linejoin="round"/>
<polygon points="143.23,535.32 139.3,547.8 146.47,545.08 150.44,532.54" fill="#365c8d" stroke="#000" stroke-width="0.75" stroke-linejoin="round"/>
<polygon points="128.52,556.87 124.62,563.3 131.54,565.08 135.4,558.58" fill="#460a5d" stroke="#000" stroke-width="0.75" stroke-linejoin="round"/>
<polygon points="153.96,528.67 150.44,532.54 157.57,534.94 161.01,531" fill="#29798e" stroke="#000" stroke-width="0.75" stroke-linejoin="round"/>
<polygon points="139.3,547.8 135.4,558.58 142.55,555.98 146.47,545.08" fill="#453581" stroke="#000" stroke-width="0.75" stroke-linejoin="round"/>
<polygon points="105.29,494.44 101.12,504.52 108.29,529.59 112.32,519.29" fill="#2cb17e" stroke="#000" stroke-width="0.75" stroke-linejoin="round"/>
<polygon points="104.12,535.57 99.78,538.49 106.97,560.99 111.12,557.66" fill="#424186" stroke="#000" stroke-width="0.75" stroke-linejoin="round"/>
<polygon points="117.82,560.68 113.75,564.08 120.63,566.77 124.62,563.3" fill="#440256" stroke="#000" stroke-width="0.75" stroke-linejoin="round"/>
<polygon points="102.7,482.64 98.55,491.84 105.29,494.44 109.42,485.09" fill="#d5e21a" stroke="#000" stroke-width="0.75" stroke-linejoin="round"/>
<polygon points="161.01,531 157.57,534.94 164.84,536.95 168.21,532.95" fill="#2a788e" stroke="#000" stroke-width="0.75" stroke-linejoin="round"/>
<polygon points="150.44,532.54 146.47,545.08 153.59,547.61 157.57,534.94" fill="#32658e" stroke="#000" stroke-width="0.75" stroke-linejoin="round"/>
<polygon points="135.4,558.58 131.54,565.08 138.71,562.54 142.55,555.98" fill="#481a6c" stroke="#000" stroke-width="0.75" stroke-linejoin="round"/>
<polygon points="98.55,491.84 94.37,501.83 101.12,504.52 105.29,494.44" fill="#8ed645" stroke="#000" stroke-width="0.75" stroke-linejoin="round"/>
<polygon points="101.12,504.52 96.77,510.14 104.12,535.57 108.29,529.59" fill="#1f9f88" stroke="#000" stroke-width="0.75" stroke-linejoin="round"/>
<polygon points="124.62,563.3 120.63,566.77 127.63,568.61 131.54,565.08" fill="#440256" stroke="#000" stroke-width="0.75" stroke-linejoin="round"/>
<polygon points="146.47,545.08 142.55,555.98 149.67,558.62 153.59,547.61" fill="#424086" stroke="#000" stroke-width="0.75" stroke-linejoin="round"/>
<polygon points="106.97,560.99 102.66,562.98 109.54,566.15 113.75,564.08" fill="#470e61" stroke="#000" stroke-width="0.75" stroke-linejoin="round"/>
<polygon points="157.57,534.94 153.59,547.61 160.85,549.73 164.84,536.95" fill="#32658e" stroke="#000" stroke-width="0.75" stroke-linejoin="round"/>
<polygon points="94.37,501.83 89.96,507.36 96.77,510.14 101.12,504.52" fill="#5ec962" stroke="#000" stroke-width="0.75" stroke-linejoin="round"/>
<polygon points="99.78,538.49 95.24,540.11 102.66,562.98 106.97,560.99" fill="#404688" stroke="#000" stroke-width="0.75" stroke-linejoin="round"/>
<polygon points="113.75,564.08 109.54,566.15 116.51,568.9 120.63,566.77" fill="#460a5d" stroke="#000" stroke-width="0.75" stroke-linejoin="round"/>
<polygon points="153.59,547.61 149.67,558.62 156.94,560.84 160.85,549.73" fill="#423f85" stroke="#000" stroke-width="0.75" stroke-linejoin="round"/>
<polygon points="142.55,555.98 138.71,562.54 145.89,565.26 149.67,558.62" fill="#482677" stroke="#000" stroke-width="0.75" stroke-linejoin="round"/>
<polygon points="131.54,565.08 127.63,568.61 134.86,566.08 138.71,562.54" fill="#471365" stroke="#000" stroke-width="0.75" stroke-linejoin="round"/>
<polygon points="96.77,510.14 92.18,512.57 99.78,538.49 104.12,535.57" fill="#1e9b8a" stroke="#000" stroke-width="0.75" stroke-linejoin="round"/>
<polygon points="120.63,566.77 116.51,568.9 123.6,570.8 127.63,568.61" fill="#460a5d" stroke="#000" stroke-width="0.75" stroke-linejoin="round"/>
<polygon points="149.67,558.62 145.89,565.26 153.21,567.57 156.94,560.84" fill="#482576" stroke="#000" stroke-width="0.75" stroke-linejoin="round"/>
<polygon points="102.66,562.98 98.12,562.6 105.12,565.82 109.54,566.15" fill="#481f70" stroke="#000" stroke-width="0.75" stroke-linejoin="round"/>
<polygon points="89.96,507.36 85.29,509.73 92.18,512.57 96.77,510.14" fill="#58c765" stroke="#000" stroke-width="0.75" stroke-linejoin="round"/>
<polygon points="138.71,562.54 134.86,566.08 142.13,568.87 145.89,565.26" fill="#482071" stroke="#000" stroke-width="0.75" stroke-linejoin="round"/>
<polygon points="95.24,540.11 90.44,539.49 98.12,562.6 102.66,562.98" fill="#3a548c" stroke="#000" stroke-width="0.75" stroke-linejoin="round"/>
<polygon points="109.54,566.15 105.12,565.82 112.21,568.64 116.51,568.9" fill="#481c6e" stroke="#000" stroke-width="0.75" stroke-linejoin="round"/>
<polygon points="127.63,568.61 123.6,570.8 130.91,568.25 134.86,566.08" fill="#481a6c" stroke="#000" stroke-width="0.75" stroke-linejoin="round"/>
<polygon points="92.18,512.57 87.38,513.73 95.24,540.11 99.78,538.49" fill="#1fa088" stroke="#000" stroke-width="0.75" stroke-linejoin="round"/>
<polygon points="145.89,565.26 142.13,568.87 149.54,571.26 153.21,567.57" fill="#481f70" stroke="#000" stroke-width="0.75" stroke-linejoin="round"/>
<polygon points="116.51,568.9 112.21,568.64 119.42,570.58 123.6,570.8" fill="#481c6e" stroke="#000" stroke-width="0.75" stroke-linejoin="round"/>
<polygon points="85.29,509.73 80.4,510.82 87.38,513.73 92.18,512.57" fill="#63cb5f" stroke="#000" stroke-width="0.75" stroke-linejoin="round"/>
<polygon points="134.86,566.08 130.91,568.25 138.29,571.12 142.13,568.87" fill="#482576" stroke="#000" stroke-width="0.75" stroke-linejoin="round"/>
<polygon points="98.12,562.6 93.3,560.4 100.44,563.61 105.12,565.82" fill="#443a83" stroke="#000" stroke-width="0.75" stroke-linejoin="round"/>
<polygon points="142.13,568.87 138.29,571.12 145.81,573.57 149.54,571.26" fill="#482475" stroke="#000" stroke-width="0.75" stroke-linejoin="round"/>
<polygon points="123.6,570.8 119.42,570.58 126.83,567.99 130.91,568.25" fill="#472a7a" stroke="#000" stroke-width="0.75" stroke-linejoin="round"/>
<polygon points="87.38,513.73 82.29,512.84 90.44,539.49 95.24,540.11" fill="#25ab82" stroke="#000" stroke-width="0.75" stroke-linejoin="round"/>
<polygon points="90.44,539.49 85.4,538.45 93.3,560.4 98.12,562.6" fill="#30698e" stroke="#000" stroke-width="0.75" stroke-linejoin="round"/>
<polygon points="105.12,565.82 100.44,563.61 107.68,566.43 112.21,568.64" fill="#453781" stroke="#000" stroke-width="0.75" stroke-linejoin="round"/>
<polygon points="80.4,510.82 75.19,509.89 82.29,512.84 87.38,513.73" fill="#7cd250" stroke="#000" stroke-width="0.75" stroke-linejoin="round"/>
<polygon points="112.21,568.64 107.68,566.43 115.04,568.45 119.42,570.58" fill="#453781" stroke="#000" stroke-width="0.75" stroke-linejoin="round"/>
<polygon points="130.91,568.25 126.83,567.99 134.35,570.92 138.29,571.12" fill="#453581" stroke="#000" stroke-width="0.75" stroke-linejoin="round"/>
<polygon points="93.3,560.4 88.37,561.28 95.62,564.52 100.44,563.61" fill="#3c508b" stroke="#000" stroke-width="0.75" stroke-linejoin="round"/>
<polygon points="138.29,571.12 134.35,570.92 142.01,573.42 145.81,573.57" fill="#463480" stroke="#000" stroke-width="0.75" stroke-linejoin="round"/>
<polygon points="82.29,512.84 77.05,513.26 85.4,538.45 90.44,539.49" fill="#37b878" stroke="#000" stroke-width="0.75" stroke-linejoin="round"/>
<polygon points="85.4,538.45 80.24,539.79 88.37,561.28 93.3,560.4" fill="#2a788e" stroke="#000" stroke-width="0.75" stroke-linejoin="round"/>
<polygon points="119.42,570.58 115.04,568.45 122.57,565.91 126.83,567.99" fill="#414487" stroke="#000" stroke-width="0.75" stroke-linejoin="round"/>
<polygon points="100.44,563.61 95.62,564.52 102.98,567.4 107.68,566.43" fill="#3d4e8a" stroke="#000" stroke-width="0.75" stroke-linejoin="round"/>
<polygon points="75.19,509.89 69.84,510.33 77.05,513.26 82.29,512.84" fill="#9dd93b" stroke="#000" stroke-width="0.75" stroke-linejoin="round"/>
<polygon points="107.68,566.43 102.98,567.4 110.46,569.49 115.04,568.45" fill="#3d4e8a" stroke="#000" stroke-width="0.75" stroke-linejoin="round"/>
<polygon points="126.83,567.99 122.57,565.91 130.26,568.86 134.35,570.92" fill="#3c4f8a" stroke="#000" stroke-width="0.75" stroke-linejoin="round"/>
<polygon points="77.05,513.26 71.67,515.18 80.24,539.79 85.4,538.45" fill="#4ac16d" stroke="#000" stroke-width="0.75" stroke-linejoin="round"/>
<polygon points="134.35,570.92 130.26,568.86 138.09,571.41 142.01,573.42" fill="#3d4e8a" stroke="#000" stroke-width="0.75" stroke-linejoin="round"/>
<polygon points="115.04,568.45 110.46,569.49 118.08,567 122.57,565.91" fill="#38598c" stroke="#000" stroke-width="0.75" stroke-linejoin="round"/>
<polygon points="69.84,510.33 64.36,512.22 71.67,515.18 77.05,513.26" fill="#b2dd2d" stroke="#000" stroke-width="0.75" stroke-linejoin="round"/>
<polygon points="122.57,565.91 118.08,567 125.9,570 130.26,568.86" fill="#33628d" stroke="#000" stroke-width="0.75" stroke-linejoin="round"/>
<polygon points="130.26,568.86 125.9,570 133.87,572.62 138.09,571.41" fill="#33628d" stroke="#000" stroke-width="0.75" stroke-linejoin="round"/>
<line x1="63.85" y1="505.16" x2="134.97" y2="524.5" stroke="#222" stroke-width="1.0"/>
<line x1="134.97" y1="524.5" x2="170.9" y2="494.17" stroke="#222" stroke-width="1.0"/>
<line x1="63.85" y1="505.16" x2="68.69" y2="571.4" stroke="#222" stroke-width="1.0"/>
<line x1="134.97" y1="524.5" x2="133.37" y2="594.36" stroke="#222" stroke-width="1.0"/>
<line x1="170.9" y1="494.17" x2="166.53" y2="557.14" stroke="#222" stroke-width="1.0"/>
<line x1="68.69" y1="571.4" x2="133.37" y2="594.36" stroke="#222" stroke-width="1.0"/>
<line x1="133.37" y1="594.36" x2="166.53" y2="557.14" stroke="#222" stroke-width="1.0"/>
</g>
<rect x="34.1" y="455.6" width="165" height="165.2" fill="none" stroke="#5e5e5e" stroke-width="1.7"/>
<rect x="208.3" y="455.7" width="25.4" height="164.5" fill="url(#vir)" stroke="#111" stroke-width="1.2"/>
<line x1="233.7" x2="240.9" y1="609.4" y2="609.4" stroke="#3a3a3a" stroke-width="1.4"/>
<text transform="translate(246.5,615.7) scale(1,1.19)" class="cb">14</text>
<line x1="233.7" x2="240.9" y1="576.25" y2="576.25" stroke="#3a3a3a" stroke-width="1.4"/>
<text transform="translate(246.5,582.55) scale(1,1.19)" class="cb">15</text>
<line x1="233.7" x2="240.9" y1="543.1" y2="543.1" stroke="#3a3a3a" stroke-width="1.4"/>
<text transform="translate(246.5,549.4) scale(1,1.19)" class="cb">16</text>
<line x1="233.7" x2="240.9" y1="509.95" y2="509.95" stroke="#3a3a3a" stroke-width="1.4"/>
<text transform="translate(246.5,516.25) scale(1,1.19)" class="cb">17</text>
<line x1="233.7" x2="240.9" y1="476.8" y2="476.8" stroke="#3a3a3a" stroke-width="1.4"/>
<text transform="translate(246.5,483.1) scale(1,1.19)" class="cb">18</text>
<g clip-path="url(#clip2)">
<text transform="translate(378,484.6) scale(1,1.06)" text-anchor="middle" class="lab3" textLength="47.3" lengthAdjust="spacingAndGlyphs">GOLD</text>
<text transform="translate(445.5,478.3) scale(1,1.06)" text-anchor="middle" class="lab3" textLength="93.2" lengthAdjust="spacingAndGlyphs">CBRT_SEC</text>
<text transform="translate(365,550.6) scale(1,1.06)" text-anchor="end" class="lab3">yhat</text>
<line x1="397" y1="480.4" x2="372.6" y2="495" stroke="#222" stroke-width="1.0"/><polygon points="376.58,494.64 372.6,495 374.8,491.66" fill="#222" stroke="#222" stroke-width="0.6"/>
<line x1="412.8" y1="477.2" x2="464" y2="485.4" stroke="#222" stroke-width="1.0"/><polygon points="460.72,483.11 464,485.4 460.17,486.55" fill="#222" stroke="#222" stroke-width="0.6"/>
<line x1="365.5" y1="563" x2="361.2" y2="520" stroke="#222" stroke-width="1.0"/><polygon points="359.83,523.76 361.2,520 363.29,523.41" fill="#222" stroke="#222" stroke-width="0.6"/>
<line x1="410.67" y1="539.56" x2="371.59" y2="571.4" stroke="#222" stroke-width="1.0" stroke-dasharray="4,3"/>
<line x1="410.67" y1="539.56" x2="469.43" y2="557.14" stroke="#222" stroke-width="1.0" stroke-dasharray="4,3"/>
<line x1="410.67" y1="539.56" x2="409.78" y2="479.67" stroke="#222" stroke-width="1.0" stroke-dasharray="4,3"/>
<line x1="409.78" y1="479.67" x2="366.75" y2="505.16" stroke="#222" stroke-width="1.0"/>
<line x1="409.78" y1="479.67" x2="473.8" y2="494.17" stroke="#222" stroke-width="1.0"/>
<polygon points="416.66,516.9 412.78,523.99 419.24,520.78 423.1,517.6" fill="#287c8e" stroke="#000" stroke-width="0.75" stroke-linejoin="round"/>
<polygon points="412.78,523.99 408.85,532.57 415.32,531.37 419.24,520.78" fill="#2f6b8e" stroke="#000" stroke-width="0.75" stroke-linejoin="round"/>
<polygon points="423.1,517.6 419.24,520.78 425.86,522.59 429.66,519.36" fill="#26828e" stroke="#000" stroke-width="0.75" stroke-linejoin="round"/>
<polygon points="408.85,532.57 404.93,543.95 411.42,545.94 415.32,531.37" fill="#404688" stroke="#000" stroke-width="0.75" stroke-linejoin="round"/>
<polygon points="409.78,479.62 405.67,486.34 412.78,523.99 416.66,516.9" fill="#3bbb75" stroke="#000" stroke-width="0.75" stroke-linejoin="round"/>
<polygon points="429.66,519.36 425.86,522.59 432.58,525 436.31,521.71" fill="#26828e" stroke="#000" stroke-width="0.75" stroke-linejoin="round"/>
<polygon points="405.67,486.34 401.76,503.89 408.85,532.57 412.78,523.99" fill="#1fa088" stroke="#000" stroke-width="0.75" stroke-linejoin="round"/>
<polygon points="419.24,520.78 415.32,531.37 421.94,533.27 425.86,522.59" fill="#2c728e" stroke="#000" stroke-width="0.75" stroke-linejoin="round"/>
<polygon points="404.93,543.95 400.77,548.1 407.31,550.15 411.42,545.94" fill="#472a7a" stroke="#000" stroke-width="0.75" stroke-linejoin="round"/>
<polygon points="415.32,531.37 411.42,545.94 418,547.96 421.94,533.27" fill="#3e4989" stroke="#000" stroke-width="0.75" stroke-linejoin="round"/>
<polygon points="401.76,503.89 397.71,515.54 404.93,543.95 408.85,532.57" fill="#287c8e" stroke="#000" stroke-width="0.75" stroke-linejoin="round"/>
<polygon points="436.31,521.71 432.58,525 439.4,527.44 443.05,524.09" fill="#277f8e" stroke="#000" stroke-width="0.75" stroke-linejoin="round"/>
<polygon points="425.86,522.59 421.94,533.27 428.66,535.77 432.58,525" fill="#2c718e" stroke="#000" stroke-width="0.75" stroke-linejoin="round"/>
<polygon points="411.42,545.94 407.31,550.15 413.96,552.24 418,547.96" fill="#472a7a" stroke="#000" stroke-width="0.75" stroke-linejoin="round"/>
<polygon points="421.94,533.27 418,547.96 424.69,550.56 428.66,535.77" fill="#3f4889" stroke="#000" stroke-width="0.75" stroke-linejoin="round"/>
<polygon points="397.71,515.54 393.29,518.61 400.77,548.1 404.93,543.95" fill="#306a8e" stroke="#000" stroke-width="0.75" stroke-linejoin="round"/>
<polygon points="443.05,524.09 439.4,527.44 446.32,529.92 449.9,526.51" fill="#287d8e" stroke="#000" stroke-width="0.75" stroke-linejoin="round"/>
<polygon points="400.77,548.1 396.51,552.62 403.1,554.74 407.31,550.15" fill="#482576" stroke="#000" stroke-width="0.75" stroke-linejoin="round"/>
<polygon points="432.58,525 428.66,535.77 435.49,538.3 439.4,527.44" fill="#2d708e" stroke="#000" stroke-width="0.75" stroke-linejoin="round"/>
<polygon points="418,547.96 413.96,552.24 420.71,554.91 424.69,550.56" fill="#482979" stroke="#000" stroke-width="0.75" stroke-linejoin="round"/>
<polygon points="428.66,535.77 424.69,550.56 431.48,553.2 435.49,538.3" fill="#404688" stroke="#000" stroke-width="0.75" stroke-linejoin="round"/>
<polygon points="449.9,526.51 446.32,529.92 453.34,532.43 456.84,528.96" fill="#297a8e" stroke="#000" stroke-width="0.75" stroke-linejoin="round"/>
<polygon points="439.4,527.44 435.49,538.3 442.41,540.87 446.32,529.92" fill="#2e6d8e" stroke="#000" stroke-width="0.75" stroke-linejoin="round"/>
<polygon points="407.31,550.15 403.1,554.74 409.8,556.89 413.96,552.24" fill="#482576" stroke="#000" stroke-width="0.75" stroke-linejoin="round"/>
<polygon points="424.69,550.56 420.71,554.91 427.57,557.62 431.48,553.2" fill="#482677" stroke="#000" stroke-width="0.75" stroke-linejoin="round"/>
<polygon points="435.49,538.3 431.48,553.2 438.36,555.88 442.41,540.87" fill="#414287" stroke="#000" stroke-width="0.75" stroke-linejoin="round"/>
<polygon points="393.29,518.61 388.73,521.77 396.51,552.62 400.77,548.1" fill="#31688e" stroke="#000" stroke-width="0.75" stroke-linejoin="round"/>
<polygon points="456.84,528.96 453.34,532.43 460.47,534.99 463.89,531.45" fill="#2a788e" stroke="#000" stroke-width="0.75" stroke-linejoin="round"/>
<polygon points="396.51,552.62 392.08,556.45 398.74,558.63 403.1,554.74" fill="#482374" stroke="#000" stroke-width="0.75" stroke-linejoin="round"/>
<polygon points="446.32,529.92 442.41,540.87 449.44,543.48 453.34,532.43" fill="#2f6b8e" stroke="#000" stroke-width="0.75" stroke-linejoin="round"/>
<polygon points="413.96,552.24 409.8,556.89 416.62,559.63 420.71,554.91" fill="#482475" stroke="#000" stroke-width="0.75" stroke-linejoin="round"/>
<polygon points="431.48,553.2 427.57,557.62 434.53,560.37 438.36,555.88" fill="#482374" stroke="#000" stroke-width="0.75" stroke-linejoin="round"/>
<polygon points="442.41,540.87 438.36,555.88 445.36,558.59 449.44,543.48" fill="#424086" stroke="#000" stroke-width="0.75" stroke-linejoin="round"/>
<polygon points="463.89,531.45 460.47,534.99 467.7,537.58 471.04,533.98" fill="#2a768e" stroke="#000" stroke-width="0.75" stroke-linejoin="round"/>
<polygon points="403.1,554.74 398.74,558.63 405.51,560.85 409.8,556.89" fill="#482374" stroke="#000" stroke-width="0.75" stroke-linejoin="round"/>
<polygon points="453.34,532.43 449.44,543.48 456.57,546.13 460.47,534.99" fill="#30698e" stroke="#000" stroke-width="0.75" stroke-linejoin="round"/>
<polygon points="420.71,554.91 416.62,559.63 423.55,562.42 427.57,557.62" fill="#482173" stroke="#000" stroke-width="0.75" stroke-linejoin="round"/>
<polygon points="438.36,555.88 434.53,560.37 441.59,563.16 445.36,558.59" fill="#482071" stroke="#000" stroke-width="0.75" stroke-linejoin="round"/>
<polygon points="449.44,543.48 445.36,558.59 452.45,561.35 456.57,546.13" fill="#433d84" stroke="#000" stroke-width="0.75" stroke-linejoin="round"/>
<polygon points="388.73,521.77 384.03,525.03 392.08,556.45 396.51,552.62" fill="#31678e" stroke="#000" stroke-width="0.75" stroke-linejoin="round"/>
<polygon points="460.47,534.99 456.57,546.13 463.81,548.82 467.7,537.58" fill="#31668e" stroke="#000" stroke-width="0.75" stroke-linejoin="round"/>
<polygon points="392.08,556.45 387.48,559.6 394.22,561.85 398.74,558.63" fill="#482475" stroke="#000" stroke-width="0.75" stroke-linejoin="round"/>
<polygon points="409.8,556.89 405.51,560.85 412.41,563.66 416.62,559.63" fill="#482173" stroke="#000" stroke-width="0.75" stroke-linejoin="round"/>
<polygon points="427.57,557.62 423.55,562.42 430.58,565.24 434.53,560.37" fill="#481d6f" stroke="#000" stroke-width="0.75" stroke-linejoin="round"/>
<polygon points="445.36,558.59 441.59,563.16 448.76,565.99 452.45,561.35" fill="#481c6e" stroke="#000" stroke-width="0.75" stroke-linejoin="round"/>
<polygon points="456.57,546.13 452.45,561.35 459.65,564.15 463.81,548.82" fill="#443a83" stroke="#000" stroke-width="0.75" stroke-linejoin="round"/>
<polygon points="416.62,559.63 412.41,563.66 419.41,566.52 423.55,562.42" fill="#481d6f" stroke="#000" stroke-width="0.75" stroke-linejoin="round"/>
<polygon points="434.53,560.37 430.58,565.24 437.71,568.11 441.59,563.16" fill="#481b6d" stroke="#000" stroke-width="0.75" stroke-linejoin="round"/>
<polygon points="398.74,558.63 394.22,561.85 401.06,564.13 405.51,560.85" fill="#482475" stroke="#000" stroke-width="0.75" stroke-linejoin="round"/>
<polygon points="452.45,561.35 448.76,565.99 456.05,568.87 459.65,564.15" fill="#481a6c" stroke="#000" stroke-width="0.75" stroke-linejoin="round"/>
<polygon points="384.03,525.03 379.17,528.39 387.48,559.6 392.08,556.45" fill="#31678e" stroke="#000" stroke-width="0.75" stroke-linejoin="round"/>
<polygon points="423.55,562.42 419.41,566.52 426.51,569.42 430.58,565.24" fill="#481b6d" stroke="#000" stroke-width="0.75" stroke-linejoin="round"/>
<polygon points="387.48,559.6 382.82,564.5 389.61,566.82 394.22,561.85" fill="#482374" stroke="#000" stroke-width="0.75" stroke-linejoin="round"/>
<polygon points="441.59,563.16 437.71,568.11 444.96,571.03 448.76,565.99" fill="#48186a" stroke="#000" stroke-width="0.75" stroke-linejoin="round"/>
<polygon points="405.51,560.85 401.06,564.13 408.04,567.02 412.41,563.66" fill="#482173" stroke="#000" stroke-width="0.75" stroke-linejoin="round"/>
<polygon points="430.58,565.24 426.51,569.42 433.73,572.37 437.71,568.11" fill="#481769" stroke="#000" stroke-width="0.75" stroke-linejoin="round"/>
<polygon points="448.76,565.99 444.96,571.03 452.32,573.99 456.05,568.87" fill="#481467" stroke="#000" stroke-width="0.75" stroke-linejoin="round"/>
<polygon points="394.22,561.85 389.61,566.82 396.52,569.18 401.06,564.13" fill="#482374" stroke="#000" stroke-width="0.75" stroke-linejoin="round"/>
<polygon points="412.41,563.66 408.04,567.02 415.12,569.95 419.41,566.52" fill="#481f70" stroke="#000" stroke-width="0.75" stroke-linejoin="round"/>
<polygon points="379.17,528.39 374.15,531.87 382.82,564.5 387.48,559.6" fill="#31678e" stroke="#000" stroke-width="0.75" stroke-linejoin="round"/>
<polygon points="382.82,564.5 378,569.22 384.85,571.61 389.61,566.82" fill="#481d6f" stroke="#000" stroke-width="0.75" stroke-linejoin="round"/>
<polygon points="437.71,568.11 433.73,572.37 441.06,575.37 444.96,571.03" fill="#481467" stroke="#000" stroke-width="0.75" stroke-linejoin="round"/>
<polygon points="419.41,566.52 415.12,569.95 422.32,572.93 426.51,569.42" fill="#481c6e" stroke="#000" stroke-width="0.75" stroke-linejoin="round"/>
<polygon points="401.06,564.13 396.52,569.18 403.56,572.15 408.04,567.02" fill="#482173" stroke="#000" stroke-width="0.75" stroke-linejoin="round"/>
<polygon points="444.96,571.03 441.06,575.37 448.51,578.41 452.32,573.99" fill="#471164" stroke="#000" stroke-width="0.75" stroke-linejoin="round"/>
<polygon points="389.61,566.82 384.85,571.61 391.83,574.05 396.52,569.18" fill="#481d6f" stroke="#000" stroke-width="0.75" stroke-linejoin="round"/>
<polygon points="426.51,569.42 422.32,572.93 429.63,575.96 433.73,572.37" fill="#48186a" stroke="#000" stroke-width="0.75" stroke-linejoin="round"/>
<polygon points="408.04,567.02 403.56,572.15 410.72,575.17 415.12,569.95" fill="#481d6f" stroke="#000" stroke-width="0.75" stroke-linejoin="round"/>
<polygon points="374.15,531.87 368.97,535.47 378,569.22 382.82,564.5" fill="#32658e" stroke="#000" stroke-width="0.75" stroke-linejoin="round"/>
<polygon points="396.52,569.18 391.83,574.05 398.94,577.11 403.56,572.15" fill="#481c6e" stroke="#000" stroke-width="0.75" stroke-linejoin="round"/>
<polygon points="433.73,572.37 429.63,575.96 437.06,579.03 441.06,575.37" fill="#481668" stroke="#000" stroke-width="0.75" stroke-linejoin="round"/>
<polygon points="415.12,569.95 410.72,575.17 417.99,578.24 422.32,572.93" fill="#481b6d" stroke="#000" stroke-width="0.75" stroke-linejoin="round"/>
<polygon points="403.56,572.15 398.94,577.11 406.17,580.21 410.72,575.17" fill="#481a6c" stroke="#000" stroke-width="0.75" stroke-linejoin="round"/>
<polygon points="441.06,575.37 437.06,579.03 444.61,582.16 448.51,578.41" fill="#471365" stroke="#000" stroke-width="0.75" stroke-linejoin="round"/>
<polygon points="422.32,572.93 417.99,578.24 425.38,581.35 429.63,575.96" fill="#481769" stroke="#000" stroke-width="0.75" stroke-linejoin="round"/>
<polygon points="410.72,575.17 406.17,580.21 413.52,583.37 417.99,578.24" fill="#481668" stroke="#000" stroke-width="0.75" stroke-linejoin="round"/>
<polygon points="429.63,575.96 425.38,581.35 432.89,584.52 437.06,579.03" fill="#481467" stroke="#000" stroke-width="0.75" stroke-linejoin="round"/>
<polygon points="417.99,578.24 413.52,583.37 420.99,586.58 425.38,581.35" fill="#471365" stroke="#000" stroke-width="0.75" stroke-linejoin="round"/>
<polygon points="437.06,579.03 432.89,584.52 440.52,587.74 444.61,582.16" fill="#471164" stroke="#000" stroke-width="0.75" stroke-linejoin="round"/>
<polygon points="425.38,581.35 420.99,586.58 428.58,589.84 432.89,584.52" fill="#470e61" stroke="#000" stroke-width="0.75" stroke-linejoin="round"/>
<polygon points="432.89,584.52 428.58,589.84 436.27,594.41 440.52,587.74" fill="#460a5d" stroke="#000" stroke-width="0.75" stroke-linejoin="round"/>
<line x1="366.75" y1="505.16" x2="437.87" y2="524.5" stroke="#222" stroke-width="1.0"/>
<line x1="437.87" y1="524.5" x2="473.8" y2="494.17" stroke="#222" stroke-width="1.0"/>
<line x1="366.75" y1="505.16" x2="371.59" y2="571.4" stroke="#222" stroke-width="1.0"/>
<line x1="437.87" y1="524.5" x2="436.27" y2="594.36" stroke="#222" stroke-width="1.0"/>
<line x1="473.8" y1="494.17" x2="469.43" y2="557.14" stroke="#222" stroke-width="1.0"/>
<line x1="371.59" y1="571.4" x2="436.27" y2="594.36" stroke="#222" stroke-width="1.0"/>
<line x1="436.27" y1="594.36" x2="469.43" y2="557.14" stroke="#222" stroke-width="1.0"/>
</g>
<rect x="337" y="455.6" width="165" height="165.2" fill="none" stroke="#5e5e5e" stroke-width="1.7"/>
<rect x="511.2" y="455.7" width="25.4" height="164.5" fill="url(#vir)" stroke="#111" stroke-width="1.2"/>
<line x1="536.6" x2="543.8" y1="611" y2="611" stroke="#3a3a3a" stroke-width="1.4"/>
<text transform="translate(549.4,617.3) scale(1,1.19)" class="cb">13</text>
<line x1="536.6" x2="543.8" y1="591.95" y2="591.95" stroke="#3a3a3a" stroke-width="1.4"/>
<text transform="translate(549.4,598.25) scale(1,1.19)" class="cb">14</text>
<line x1="536.6" x2="543.8" y1="572.9" y2="572.9" stroke="#3a3a3a" stroke-width="1.4"/>
<text transform="translate(549.4,579.2) scale(1,1.19)" class="cb">15</text>
<line x1="536.6" x2="543.8" y1="553.85" y2="553.85" stroke="#3a3a3a" stroke-width="1.4"/>
<text transform="translate(549.4,560.15) scale(1,1.19)" class="cb">16</text>
<line x1="536.6" x2="543.8" y1="534.8" y2="534.8" stroke="#3a3a3a" stroke-width="1.4"/>
<text transform="translate(549.4,541.1) scale(1,1.19)" class="cb">17</text>
<line x1="536.6" x2="543.8" y1="515.75" y2="515.75" stroke="#3a3a3a" stroke-width="1.4"/>
<text transform="translate(549.4,522.05) scale(1,1.19)" class="cb">18</text>
<line x1="536.6" x2="543.8" y1="496.7" y2="496.7" stroke="#3a3a3a" stroke-width="1.4"/>
<text transform="translate(549.4,503) scale(1,1.19)" class="cb">19</text>
<line x1="536.6" x2="543.8" y1="477.65" y2="477.65" stroke="#3a3a3a" stroke-width="1.4"/>
<text transform="translate(549.4,483.95) scale(1,1.19)" class="cb">20</text>
<line x1="536.6" x2="543.8" y1="458.6" y2="458.6" stroke="#3a3a3a" stroke-width="1.4"/>
<text transform="translate(549.4,464.9) scale(1,1.19)" class="cb">21</text>
<g clip-path="url(#clip3)">
<text transform="translate(680.45,484.6) scale(1,1.06)" text-anchor="middle" class="lab3" textLength="47.3" lengthAdjust="spacingAndGlyphs">GOLD</text>
<text transform="translate(747.95,478.3) scale(1,1.06)" text-anchor="middle" class="lab3" textLength="81.7" lengthAdjust="spacingAndGlyphs">EMISSION</text>
<text transform="translate(667.45,550.6) scale(1,1.06)" text-anchor="end" class="lab3">yhat</text>
<line x1="699.45" y1="480.4" x2="675.05" y2="495" stroke="#222" stroke-width="1.0"/><polygon points="679.03,494.64 675.05,495 677.25,491.66" fill="#222" stroke="#222" stroke-width="0.6"/>
<line x1="715.25" y1="477.2" x2="766.45" y2="485.4" stroke="#222" stroke-width="1.0"/><polygon points="763.17,483.11 766.45,485.4 762.62,486.55" fill="#222" stroke="#222" stroke-width="0.6"/>
<line x1="667.95" y1="563" x2="663.65" y2="520" stroke="#222" stroke-width="1.0"/><polygon points="662.28,523.76 663.65,520 665.74,523.41" fill="#222" stroke="#222" stroke-width="0.6"/>
<line x1="713.12" y1="539.56" x2="674.04" y2="571.4" stroke="#222" stroke-width="1.0" stroke-dasharray="4,3"/>
<line x1="713.12" y1="539.56" x2="771.88" y2="557.14" stroke="#222" stroke-width="1.0" stroke-dasharray="4,3"/>
<line x1="713.12" y1="539.56" x2="712.23" y2="479.67" stroke="#222" stroke-width="1.0" stroke-dasharray="4,3"/>
<line x1="712.23" y1="479.67" x2="669.2" y2="505.16" stroke="#222" stroke-width="1.0"/>
<line x1="712.23" y1="479.67" x2="776.25" y2="494.17" stroke="#222" stroke-width="1.0"/>
<polygon points="725.56,515.57 721.68,518.7 728.32,520.9 732.13,517.71" fill="#238a8d" stroke="#000" stroke-width="0.75" stroke-linejoin="round"/>
<polygon points="732.13,517.71 728.32,520.9 735.06,523.13 738.8,519.89" fill="#23888e" stroke="#000" stroke-width="0.75" stroke-linejoin="round"/>
<polygon points="721.68,518.7 717.74,528.27 724.39,530.55 728.32,520.9" fill="#287d8e" stroke="#000" stroke-width="0.75" stroke-linejoin="round"/>
<polygon points="718.89,483.08 714.8,487.55 721.68,518.7 725.56,515.57" fill="#4cc26c" stroke="#000" stroke-width="0.75" stroke-linejoin="round"/>
<polygon points="717.74,528.27 713.8,541.34 720.43,543.72 724.39,530.55" fill="#375b8d" stroke="#000" stroke-width="0.75" stroke-linejoin="round"/>
<polygon points="738.8,519.89 735.06,523.13 741.91,525 745.58,521.7" fill="#24878e" stroke="#000" stroke-width="0.75" stroke-linejoin="round"/>
<polygon points="728.32,520.9 724.39,530.55 731.14,532.87 735.06,523.13" fill="#297b8e" stroke="#000" stroke-width="0.75" stroke-linejoin="round"/>
<polygon points="714.8,487.55 710.78,502.32 717.74,528.27 721.68,518.7" fill="#2ab07f" stroke="#000" stroke-width="0.75" stroke-linejoin="round"/>
<polygon points="710.78,502.32 706.81,518.99 713.8,541.34 717.74,528.27" fill="#23888e" stroke="#000" stroke-width="0.75" stroke-linejoin="round"/>
<polygon points="724.39,530.55 720.43,543.72 727.16,546.15 731.14,532.87" fill="#38598c" stroke="#000" stroke-width="0.75" stroke-linejoin="round"/>
<polygon points="713.8,541.34 709.67,545.41 716.36,547.86 720.43,543.72" fill="#414287" stroke="#000" stroke-width="0.75" stroke-linejoin="round"/>
<polygon points="745.58,521.7 741.91,525 748.86,527.3 752.45,523.94" fill="#24868e" stroke="#000" stroke-width="0.75" stroke-linejoin="round"/>
<polygon points="712.23,479.69 708.08,484.26 714.8,487.55 718.89,483.08" fill="#ece51b" stroke="#000" stroke-width="0.75" stroke-linejoin="round"/>
<polygon points="735.06,523.13 731.14,532.87 738,534.83 741.91,525" fill="#297a8e" stroke="#000" stroke-width="0.75" stroke-linejoin="round"/>
<polygon points="752.45,523.94 748.86,527.3 755.77,532.89 759.27,529.45" fill="#277f8e" stroke="#000" stroke-width="0.75" stroke-linejoin="round"/>
<polygon points="706.81,518.99 702.49,522.82 709.67,545.41 713.8,541.34" fill="#2d708e" stroke="#000" stroke-width="0.75" stroke-linejoin="round"/>
<polygon points="704.11,499.79 700.21,517.17 706.81,518.99 710.78,502.32" fill="#2fb47c" stroke="#000" stroke-width="0.75" stroke-linejoin="round"/>
<polygon points="731.14,532.87 727.16,546.15 734,548.22 738,534.83" fill="#38588c" stroke="#000" stroke-width="0.75" stroke-linejoin="round"/>
<polygon points="720.43,543.72 716.36,547.86 723.16,550.35 727.16,546.15" fill="#424086" stroke="#000" stroke-width="0.75" stroke-linejoin="round"/>
<polygon points="708.08,484.26 704.11,499.79 710.78,502.32 714.8,487.55" fill="#a0da39" stroke="#000" stroke-width="0.75" stroke-linejoin="round"/>
<polygon points="759.27,529.45 755.77,532.89 762.88,535.69 766.29,532.18" fill="#2a768e" stroke="#000" stroke-width="0.75" stroke-linejoin="round"/>
<polygon points="741.91,525 738,534.83 744.97,537.22 748.86,527.3" fill="#29798e" stroke="#000" stroke-width="0.75" stroke-linejoin="round"/>
<polygon points="700.21,517.17 695.83,520.94 702.49,522.82 706.81,518.99" fill="#1f988b" stroke="#000" stroke-width="0.75" stroke-linejoin="round"/>
<polygon points="709.67,545.41 705.41,549.22 712.17,551.74 716.36,547.86" fill="#424086" stroke="#000" stroke-width="0.75" stroke-linejoin="round"/>
<polygon points="738,534.83 734,548.22 740.94,550.71 744.97,537.22" fill="#38588c" stroke="#000" stroke-width="0.75" stroke-linejoin="round"/>
<polygon points="727.16,546.15 723.16,550.35 730.07,552.49 734,548.22" fill="#423f85" stroke="#000" stroke-width="0.75" stroke-linejoin="round"/>
<polygon points="748.86,527.3 744.97,537.22 751.81,545.29 755.77,532.89" fill="#2e6f8e" stroke="#000" stroke-width="0.75" stroke-linejoin="round"/>
<polygon points="744.97,537.22 740.94,550.71 747.72,561.14 751.81,545.29" fill="#404688" stroke="#000" stroke-width="0.75" stroke-linejoin="round"/>
<polygon points="766.29,532.18 762.88,535.69 770.15,537.71 773.48,534.13" fill="#2b748e" stroke="#000" stroke-width="0.75" stroke-linejoin="round"/>
<polygon points="755.77,532.89 751.81,545.29 758.92,548.18 762.88,535.69" fill="#33638d" stroke="#000" stroke-width="0.75" stroke-linejoin="round"/>
<polygon points="751.81,545.29 747.72,561.14 754.77,564.14 758.92,548.18" fill="#46327e" stroke="#000" stroke-width="0.75" stroke-linejoin="round"/>
<polygon points="702.49,522.82 698.02,526.36 705.41,549.22 709.67,545.41" fill="#2e6e8e" stroke="#000" stroke-width="0.75" stroke-linejoin="round"/>
<polygon points="716.36,547.86 712.17,551.74 719.04,554.3 723.16,550.35" fill="#433e85" stroke="#000" stroke-width="0.75" stroke-linejoin="round"/>
<polygon points="734,548.22 730.07,552.49 737.08,555.05 740.94,550.71" fill="#433e85" stroke="#000" stroke-width="0.75" stroke-linejoin="round"/>
<polygon points="740.94,550.71 737.08,555.05 743.97,565.62 747.72,561.14" fill="#482878" stroke="#000" stroke-width="0.75" stroke-linejoin="round"/>
<polygon points="747.72,561.14 743.97,565.62 751.11,568.7 754.77,564.14" fill="#470d60" stroke="#000" stroke-width="0.75" stroke-linejoin="round"/>
<polygon points="695.83,520.94 691.3,524.42 698.02,526.36 702.49,522.82" fill="#1f968b" stroke="#000" stroke-width="0.75" stroke-linejoin="round"/>
<polygon points="762.88,535.69 758.92,548.18 766.17,550.31 770.15,537.71" fill="#33628d" stroke="#000" stroke-width="0.75" stroke-linejoin="round"/>
<polygon points="758.92,548.18 754.77,564.14 761.98,566.4 766.17,550.31" fill="#472f7d" stroke="#000" stroke-width="0.75" stroke-linejoin="round"/>
<polygon points="705.41,549.22 700.99,552.41 707.83,555 712.17,551.74" fill="#424086" stroke="#000" stroke-width="0.75" stroke-linejoin="round"/>
<polygon points="723.16,550.35 719.04,554.3 726.02,556.49 730.07,552.49" fill="#433d84" stroke="#000" stroke-width="0.75" stroke-linejoin="round"/>
<polygon points="754.77,564.14 751.11,568.7 758.39,571.03 761.98,566.4" fill="#460b5e" stroke="#000" stroke-width="0.75" stroke-linejoin="round"/>
<polygon points="698.02,526.36 693.39,529.24 700.99,552.41 705.41,549.22" fill="#2e6f8e" stroke="#000" stroke-width="0.75" stroke-linejoin="round"/>
<polygon points="712.17,551.74 707.83,555 714.78,557.63 719.04,554.3" fill="#433e85" stroke="#000" stroke-width="0.75" stroke-linejoin="round"/>
<polygon points="730.07,552.49 726.02,556.49 733.11,559.14 737.08,555.05" fill="#443b84" stroke="#000" stroke-width="0.75" stroke-linejoin="round"/>
<polygon points="737.08,555.05 733.11,559.14 740.12,569.85 743.97,565.62" fill="#482576" stroke="#000" stroke-width="0.75" stroke-linejoin="round"/>
<polygon points="743.97,565.62 740.12,569.85 747.34,573.01 751.11,568.7" fill="#460a5d" stroke="#000" stroke-width="0.75" stroke-linejoin="round"/>
<polygon points="691.3,524.42 686.59,527.24 693.39,529.24 698.02,526.36" fill="#1f978b" stroke="#000" stroke-width="0.75" stroke-linejoin="round"/>
<polygon points="719.04,554.3 714.78,557.63 721.84,559.89 726.02,556.49" fill="#433d84" stroke="#000" stroke-width="0.75" stroke-linejoin="round"/>
<polygon points="700.99,552.41 696.4,555.02 703.32,557.68 707.83,555" fill="#414487" stroke="#000" stroke-width="0.75" stroke-linejoin="round"/>
<polygon points="751.11,568.7 747.34,573.01 754.7,575.41 758.39,571.03" fill="#46085c" stroke="#000" stroke-width="0.75" stroke-linejoin="round"/>
<polygon points="693.39,529.24 688.56,531.48 696.4,555.02 700.99,552.41" fill="#2c718e" stroke="#000" stroke-width="0.75" stroke-linejoin="round"/>
<polygon points="726.02,556.49 721.84,559.89 729.02,562.61 733.11,559.14" fill="#443b84" stroke="#000" stroke-width="0.75" stroke-linejoin="round"/>
<polygon points="707.83,555 703.32,557.68 710.36,560.37 714.78,557.63" fill="#424186" stroke="#000" stroke-width="0.75" stroke-linejoin="round"/>
<polygon points="733.11,559.14 729.02,562.61 736.16,573.49 740.12,569.85" fill="#482576" stroke="#000" stroke-width="0.75" stroke-linejoin="round"/>
<polygon points="740.12,569.85 736.16,573.49 743.47,576.73 747.34,573.01" fill="#460b5e" stroke="#000" stroke-width="0.75" stroke-linejoin="round"/>
<polygon points="686.59,527.24 681.68,529.43 688.56,531.48 693.39,529.24" fill="#1f9a8a" stroke="#000" stroke-width="0.75" stroke-linejoin="round"/>
<polygon points="714.78,557.63 710.36,560.37 717.51,562.7 721.84,559.89" fill="#424186" stroke="#000" stroke-width="0.75" stroke-linejoin="round"/>
<polygon points="696.4,555.02 691.71,559.17 698.71,561.91 703.32,557.68" fill="#404688" stroke="#000" stroke-width="0.75" stroke-linejoin="round"/>
<polygon points="747.34,573.01 743.47,576.73 750.93,579.2 754.7,575.41" fill="#46085c" stroke="#000" stroke-width="0.75" stroke-linejoin="round"/>
<polygon points="688.56,531.48 683.63,535.35 691.71,559.17 696.4,555.02" fill="#2c738e" stroke="#000" stroke-width="0.75" stroke-linejoin="round"/>
<polygon points="721.84,559.89 717.51,562.7 724.78,565.49 729.02,562.61" fill="#424086" stroke="#000" stroke-width="0.75" stroke-linejoin="round"/>
<polygon points="703.32,557.68 698.71,561.91 705.82,564.68 710.36,560.37" fill="#414487" stroke="#000" stroke-width="0.75" stroke-linejoin="round"/>
<polygon points="729.02,562.61 724.78,565.49 732.08,576.56 736.16,573.49" fill="#482979" stroke="#000" stroke-width="0.75" stroke-linejoin="round"/>
<polygon points="736.16,573.49 732.08,576.56 739.49,579.88 743.47,576.73" fill="#471063" stroke="#000" stroke-width="0.75" stroke-linejoin="round"/>
<polygon points="681.68,529.43 676.69,533.23 683.63,535.35 688.56,531.48" fill="#1e9c89" stroke="#000" stroke-width="0.75" stroke-linejoin="round"/>
<polygon points="691.71,559.17 686.85,563.17 693.92,565.98 698.71,561.91" fill="#404588" stroke="#000" stroke-width="0.75" stroke-linejoin="round"/>
<polygon points="710.36,560.37 705.82,564.68 713.04,567.09 717.51,562.7" fill="#414287" stroke="#000" stroke-width="0.75" stroke-linejoin="round"/>
<polygon points="743.47,576.73 739.49,579.88 747.05,582.43 750.93,579.2" fill="#470d60" stroke="#000" stroke-width="0.75" stroke-linejoin="round"/>
<polygon points="683.63,535.35 678.53,539.03 686.85,563.17 691.71,559.17" fill="#2c728e" stroke="#000" stroke-width="0.75" stroke-linejoin="round"/>
<polygon points="698.71,561.91 693.92,565.98 701.12,568.84 705.82,564.68" fill="#414487" stroke="#000" stroke-width="0.75" stroke-linejoin="round"/>
<polygon points="717.51,562.7 713.04,567.09 720.4,569.95 724.78,565.49" fill="#414287" stroke="#000" stroke-width="0.75" stroke-linejoin="round"/>
<polygon points="724.78,565.49 720.4,569.95 727.83,581.19 732.08,576.56" fill="#472c7a" stroke="#000" stroke-width="0.75" stroke-linejoin="round"/>
<polygon points="732.08,576.56 727.83,581.19 735.33,584.6 739.49,579.88" fill="#471365" stroke="#000" stroke-width="0.75" stroke-linejoin="round"/>
<polygon points="676.69,533.23 671.52,536.84 678.53,539.03 683.63,535.35" fill="#1e9b8a" stroke="#000" stroke-width="0.75" stroke-linejoin="round"/>
<polygon points="705.82,564.68 701.12,568.84 708.42,571.32 713.04,567.09" fill="#414287" stroke="#000" stroke-width="0.75" stroke-linejoin="round"/>
<polygon points="739.49,579.88 735.33,584.6 742.98,587.23 747.05,582.43" fill="#471063" stroke="#000" stroke-width="0.75" stroke-linejoin="round"/>
<polygon points="713.04,567.09 708.42,571.32 715.87,574.27 720.4,569.95" fill="#424186" stroke="#000" stroke-width="0.75" stroke-linejoin="round"/>
<polygon points="720.4,569.95 715.87,574.27 723.44,585.68 727.83,581.19" fill="#472a7a" stroke="#000" stroke-width="0.75" stroke-linejoin="round"/>
<polygon points="727.83,581.19 723.44,585.68 731.04,589.18 735.33,584.6" fill="#471164" stroke="#000" stroke-width="0.75" stroke-linejoin="round"/>
<polygon points="735.33,584.6 731.04,589.18 738.73,594.33 742.98,587.23" fill="#460b5e" stroke="#000" stroke-width="0.75" stroke-linejoin="round"/>
<line x1="669.2" y1="505.16" x2="740.32" y2="524.5" stroke="#222" stroke-width="1.0"/>
<line x1="740.32" y1="524.5" x2="776.25" y2="494.17" stroke="#222" stroke-width="1.0"/>
<line x1="669.2" y1="505.16" x2="674.04" y2="571.4" stroke="#222" stroke-width="1.0"/>
<line x1="740.32" y1="524.5" x2="738.72" y2="594.36" stroke="#222" stroke-width="1.0"/>
<line x1="776.25" y1="494.17" x2="771.88" y2="557.14" stroke="#222" stroke-width="1.0"/>
<line x1="674.04" y1="571.4" x2="738.72" y2="594.36" stroke="#222" stroke-width="1.0"/>
<line x1="738.72" y1="594.36" x2="771.88" y2="557.14" stroke="#222" stroke-width="1.0"/>
</g>
<rect x="639.45" y="455.6" width="165" height="165.2" fill="none" stroke="#5e5e5e" stroke-width="1.7"/>
<rect x="813.65" y="455.7" width="25.4" height="164.5" fill="url(#vir)" stroke="#111" stroke-width="1.2"/>
<line x1="839.05" x2="846.25" y1="617.31" y2="617.31" stroke="#3a3a3a" stroke-width="1.4"/>
<text transform="translate(851.85,623.61) scale(1,1.19)" class="cb">13</text>
<line x1="839.05" x2="846.25" y1="595.68" y2="595.68" stroke="#3a3a3a" stroke-width="1.4"/>
<text transform="translate(851.85,601.98) scale(1,1.19)" class="cb">14</text>
<line x1="839.05" x2="846.25" y1="574.05" y2="574.05" stroke="#3a3a3a" stroke-width="1.4"/>
<text transform="translate(851.85,580.35) scale(1,1.19)" class="cb">15</text>
<line x1="839.05" x2="846.25" y1="552.42" y2="552.42" stroke="#3a3a3a" stroke-width="1.4"/>
<text transform="translate(851.85,558.72) scale(1,1.19)" class="cb">16</text>
<line x1="839.05" x2="846.25" y1="530.79" y2="530.79" stroke="#3a3a3a" stroke-width="1.4"/>
<text transform="translate(851.85,537.09) scale(1,1.19)" class="cb">17</text>
<line x1="839.05" x2="846.25" y1="509.16" y2="509.16" stroke="#3a3a3a" stroke-width="1.4"/>
<text transform="translate(851.85,515.46) scale(1,1.19)" class="cb">18</text>
<line x1="839.05" x2="846.25" y1="487.53" y2="487.53" stroke="#3a3a3a" stroke-width="1.4"/>
<text transform="translate(851.85,493.83) scale(1,1.19)" class="cb">19</text>
<line x1="839.05" x2="846.25" y1="465.9" y2="465.9" stroke="#3a3a3a" stroke-width="1.4"/>
<text transform="translate(851.85,472.2) scale(1,1.19)" class="cb">20</text>
<g clip-path="url(#clip4)">
<text transform="translate(982.25,484.6) scale(1,1.06)" text-anchor="middle" class="lab3" textLength="55.5" lengthAdjust="spacingAndGlyphs">USDTL</text>
<text transform="translate(1049.75,478.3) scale(1,1.06)" text-anchor="middle" class="lab3" textLength="93.2" lengthAdjust="spacingAndGlyphs">CBRT_SEC</text>
<text transform="translate(969.25,550.6) scale(1,1.06)" text-anchor="end" class="lab3">yhat</text>
<line x1="1001.25" y1="480.4" x2="976.85" y2="495" stroke="#222" stroke-width="1.0"/><polygon points="980.83,494.64 976.85,495 979.05,491.66" fill="#222" stroke="#222" stroke-width="0.6"/>
<line x1="1017.05" y1="477.2" x2="1068.25" y2="485.4" stroke="#222" stroke-width="1.0"/><polygon points="1064.97,483.11 1068.25,485.4 1064.42,486.55" fill="#222" stroke="#222" stroke-width="0.6"/>
<line x1="969.75" y1="563" x2="965.45" y2="520" stroke="#222" stroke-width="1.0"/><polygon points="964.08,523.76 965.45,520 967.54,523.41" fill="#222" stroke="#222" stroke-width="0.6"/>
<line x1="1014.92" y1="539.56" x2="975.84" y2="571.4" stroke="#222" stroke-width="1.0" stroke-dasharray="4,3"/>
<line x1="1014.92" y1="539.56" x2="1073.68" y2="557.14" stroke="#222" stroke-width="1.0" stroke-dasharray="4,3"/>
<line x1="1014.92" y1="539.56" x2="1014.03" y2="479.67" stroke="#222" stroke-width="1.0" stroke-dasharray="4,3"/>
<line x1="1014.03" y1="479.67" x2="971" y2="505.16" stroke="#222" stroke-width="1.0"/>
<line x1="1014.03" y1="479.67" x2="1078.05" y2="494.17" stroke="#222" stroke-width="1.0"/>
<polygon points="1020.95,524.43 1017.07,527.83 1023.52,531.64 1027.33,528.18" fill="#375a8c" stroke="#000" stroke-width="0.75" stroke-linejoin="round"/>
<polygon points="1027.33,528.18 1023.52,531.64 1030.04,534.05 1033.78,530.53" fill="#3a538b" stroke="#000" stroke-width="0.75" stroke-linejoin="round"/>
<polygon points="1017.07,527.83 1013.18,537.12 1019.65,541 1023.52,531.64" fill="#3e4989" stroke="#000" stroke-width="0.75" stroke-linejoin="round"/>
<polygon points="1033.78,530.53 1030.04,534.05 1036.66,535.68 1040.35,532.11" fill="#3a538b" stroke="#000" stroke-width="0.75" stroke-linejoin="round"/>
<polygon points="1023.52,531.64 1019.65,541 1026.18,543.5 1030.04,534.05" fill="#414487" stroke="#000" stroke-width="0.75" stroke-linejoin="round"/>
<polygon points="1013.18,537.12 1009.21,545.09 1015.71,549.05 1019.65,541" fill="#472e7c" stroke="#000" stroke-width="0.75" stroke-linejoin="round"/>
<polygon points="1040.35,532.11 1036.66,535.68 1043.4,537.34 1047.02,533.71" fill="#3a548c" stroke="#000" stroke-width="0.75" stroke-linejoin="round"/>
<polygon points="1014.03,479.67 1009.86,483.26 1017.07,527.83 1020.95,524.43" fill="#2db27d" stroke="#000" stroke-width="0.75" stroke-linejoin="round"/>
<polygon points="1019.65,541 1015.71,549.05 1022.27,551.62 1026.18,543.5" fill="#482677" stroke="#000" stroke-width="0.75" stroke-linejoin="round"/>
<polygon points="1030.04,534.05 1026.18,543.5 1032.82,545.22 1036.66,535.68" fill="#414287" stroke="#000" stroke-width="0.75" stroke-linejoin="round"/>
<polygon points="1009.21,545.09 1005.07,549.83 1011.64,553.86 1015.71,549.05" fill="#481d6f" stroke="#000" stroke-width="0.75" stroke-linejoin="round"/>
<polygon points="1047.02,533.71 1043.4,537.34 1050.22,539.85 1053.77,536.16" fill="#3a538b" stroke="#000" stroke-width="0.75" stroke-linejoin="round"/>
<polygon points="1026.18,543.5 1022.27,551.62 1028.93,553.43 1032.82,545.22" fill="#482677" stroke="#000" stroke-width="0.75" stroke-linejoin="round"/>
<polygon points="1036.66,535.68 1032.82,545.22 1039.56,546.96 1043.4,537.34" fill="#404588" stroke="#000" stroke-width="0.75" stroke-linejoin="round"/>
<polygon points="1009.86,483.26 1005.57,487.05 1013.18,537.12 1017.07,527.83" fill="#24aa83" stroke="#000" stroke-width="0.75" stroke-linejoin="round"/>
<polygon points="1015.71,549.05 1011.64,553.86 1018.25,556.51 1022.27,551.62" fill="#481668" stroke="#000" stroke-width="0.75" stroke-linejoin="round"/>
<polygon points="1053.77,536.16 1050.22,539.85 1057.18,541.57 1060.65,537.82" fill="#3a538b" stroke="#000" stroke-width="0.75" stroke-linejoin="round"/>
<polygon points="1032.82,545.22 1028.93,553.43 1035.7,555.26 1039.56,546.96" fill="#482878" stroke="#000" stroke-width="0.75" stroke-linejoin="round"/>
<polygon points="1043.4,537.34 1039.56,546.96 1046.4,549.56 1050.22,539.85" fill="#414487" stroke="#000" stroke-width="0.75" stroke-linejoin="round"/>
<polygon points="1022.27,551.62 1018.25,556.51 1024.97,558.37 1028.93,553.43" fill="#481467" stroke="#000" stroke-width="0.75" stroke-linejoin="round"/>
<polygon points="1005.07,549.83 1000.76,552.69 1007.4,556.81 1011.64,553.86" fill="#481b6d" stroke="#000" stroke-width="0.75" stroke-linejoin="round"/>
<polygon points="1005.57,487.05 1001.16,490.85 1009.21,545.09 1013.18,537.12" fill="#1e9d89" stroke="#000" stroke-width="0.75" stroke-linejoin="round"/>
<polygon points="1060.65,537.82 1057.18,541.57 1064.26,543.32 1067.66,539.51" fill="#3a548c" stroke="#000" stroke-width="0.75" stroke-linejoin="round"/>
<polygon points="1039.56,546.96 1035.7,555.26 1042.56,557.94 1046.4,549.56" fill="#482677" stroke="#000" stroke-width="0.75" stroke-linejoin="round"/>
<polygon points="1050.22,539.85 1046.4,549.56 1053.37,551.37 1057.18,541.57" fill="#414287" stroke="#000" stroke-width="0.75" stroke-linejoin="round"/>
<polygon points="1011.64,553.86 1007.4,556.81 1014.1,559.51 1018.25,556.51" fill="#481467" stroke="#000" stroke-width="0.75" stroke-linejoin="round"/>
<polygon points="1028.93,553.43 1024.97,558.37 1031.77,563.26 1035.7,555.26" fill="#471164" stroke="#000" stroke-width="0.75" stroke-linejoin="round"/>
<polygon points="1067.66,539.51 1064.26,543.32 1071.41,545.94 1074.73,542.07" fill="#3a538b" stroke="#000" stroke-width="0.75" stroke-linejoin="round"/>
<polygon points="1046.4,549.56 1042.56,557.94 1049.56,559.84 1053.37,551.37" fill="#482677" stroke="#000" stroke-width="0.75" stroke-linejoin="round"/>
<polygon points="1057.18,541.57 1053.37,551.37 1060.46,553.22 1064.26,543.32" fill="#404588" stroke="#000" stroke-width="0.75" stroke-linejoin="round"/>
<polygon points="1018.25,556.51 1014.1,559.51 1020.89,561.44 1024.97,558.37" fill="#471365" stroke="#000" stroke-width="0.75" stroke-linejoin="round"/>
<polygon points="1001.16,490.85 996.63,494.86 1005.07,549.83 1009.21,545.09" fill="#1f948c" stroke="#000" stroke-width="0.75" stroke-linejoin="round"/>
<polygon points="1035.7,555.26 1031.77,563.26 1038.73,563.03 1042.56,557.94" fill="#471164" stroke="#000" stroke-width="0.75" stroke-linejoin="round"/>
<polygon points="1000.76,552.69 996.27,554.98 1003.01,559.18 1007.4,556.81" fill="#482071" stroke="#000" stroke-width="0.75" stroke-linejoin="round"/>
<polygon points="1053.37,551.37 1049.56,559.84 1056.68,561.78 1060.46,553.22" fill="#482878" stroke="#000" stroke-width="0.75" stroke-linejoin="round"/>
<polygon points="1024.97,558.37 1020.89,561.44 1027.79,563.4 1031.77,563.26" fill="#471063" stroke="#000" stroke-width="0.75" stroke-linejoin="round"/>
<polygon points="1064.26,543.32 1060.46,553.22 1067.63,555.93 1071.41,545.94" fill="#414487" stroke="#000" stroke-width="0.75" stroke-linejoin="round"/>
<polygon points="1007.4,556.81 1003.01,559.18 1009.79,561.95 1014.1,559.51" fill="#481a6c" stroke="#000" stroke-width="0.75" stroke-linejoin="round"/>
<polygon points="1042.56,557.94 1038.73,563.03 1045.79,565 1049.56,559.84" fill="#481467" stroke="#000" stroke-width="0.75" stroke-linejoin="round"/>
<polygon points="996.63,494.86 991.96,498.99 1000.76,552.69 1005.07,549.83" fill="#20928c" stroke="#000" stroke-width="0.75" stroke-linejoin="round"/>
<polygon points="1060.46,553.22 1056.68,561.78 1063.88,564.57 1067.63,555.93" fill="#482677" stroke="#000" stroke-width="0.75" stroke-linejoin="round"/>
<polygon points="1031.77,563.26 1027.79,563.4 1034.81,566.22 1038.73,563.03" fill="#470e61" stroke="#000" stroke-width="0.75" stroke-linejoin="round"/>
<polygon points="1014.1,559.51 1009.79,561.95 1016.66,563.93 1020.89,561.44" fill="#48186a" stroke="#000" stroke-width="0.75" stroke-linejoin="round"/>
<polygon points="1049.56,559.84 1045.79,565 1052.97,567.01 1056.68,561.78" fill="#481769" stroke="#000" stroke-width="0.75" stroke-linejoin="round"/>
<polygon points="996.27,554.98 991.47,554.18 998.33,558.47 1003.01,559.18" fill="#46307e" stroke="#000" stroke-width="0.75" stroke-linejoin="round"/>
<polygon points="1038.73,563.03 1034.81,566.22 1041.96,568.26 1045.79,565" fill="#471365" stroke="#000" stroke-width="0.75" stroke-linejoin="round"/>
<polygon points="1020.89,561.44 1016.66,563.93 1023.65,565.95 1027.79,563.4" fill="#481b6d" stroke="#000" stroke-width="0.75" stroke-linejoin="round"/>
<polygon points="1056.68,561.78 1052.97,567.01 1060.24,569.89 1063.88,564.57" fill="#481668" stroke="#000" stroke-width="0.75" stroke-linejoin="round"/>
<polygon points="1003.01,559.18 998.33,558.47 1005.23,561.3 1009.79,561.95" fill="#482979" stroke="#000" stroke-width="0.75" stroke-linejoin="round"/>
<polygon points="991.96,498.99 987.15,503.13 996.27,554.98 1000.76,552.69" fill="#20928c" stroke="#000" stroke-width="0.75" stroke-linejoin="round"/>
<polygon points="1045.79,565 1041.96,568.26 1049.23,570.33 1052.97,567.01" fill="#481467" stroke="#000" stroke-width="0.75" stroke-linejoin="round"/>
<polygon points="1027.79,563.4 1023.65,565.95 1030.77,568.84 1034.81,566.22" fill="#481a6c" stroke="#000" stroke-width="0.75" stroke-linejoin="round"/>
<polygon points="1009.79,561.95 1005.23,561.3 1012.22,563.32 1016.66,563.93" fill="#482979" stroke="#000" stroke-width="0.75" stroke-linejoin="round"/>
<polygon points="1052.97,567.01 1049.23,570.33 1056.6,573.28 1060.24,569.89" fill="#481467" stroke="#000" stroke-width="0.75" stroke-linejoin="round"/>
<polygon points="1034.81,566.22 1030.77,568.84 1038.01,570.94 1041.96,568.26" fill="#48186a" stroke="#000" stroke-width="0.75" stroke-linejoin="round"/>
<polygon points="991.47,554.18 986.63,556.68 993.59,561.06 998.33,558.47" fill="#423f85" stroke="#000" stroke-width="0.75" stroke-linejoin="round"/>
<polygon points="1016.66,563.93 1012.22,563.32 1019.33,565.38 1023.65,565.95" fill="#472a7a" stroke="#000" stroke-width="0.75" stroke-linejoin="round"/>
<polygon points="987.15,503.13 982.2,507.4 991.47,554.18 996.27,554.98" fill="#1f958b" stroke="#000" stroke-width="0.75" stroke-linejoin="round"/>
<polygon points="998.33,558.47 993.59,561.06 1000.58,563.97 1005.23,561.3" fill="#443983" stroke="#000" stroke-width="0.75" stroke-linejoin="round"/>
<polygon points="1041.96,568.26 1038.01,570.94 1045.38,573.07 1049.23,570.33" fill="#481b6d" stroke="#000" stroke-width="0.75" stroke-linejoin="round"/>
<polygon points="1023.65,565.95 1019.33,565.38 1026.58,568.34 1030.77,568.84" fill="#482979" stroke="#000" stroke-width="0.75" stroke-linejoin="round"/>
<polygon points="1005.23,561.3 1000.58,563.97 1007.65,566.05 1012.22,563.32" fill="#453882" stroke="#000" stroke-width="0.75" stroke-linejoin="round"/>
<polygon points="986.63,556.68 981.7,560.5 988.75,564.98 993.59,561.06" fill="#414287" stroke="#000" stroke-width="0.75" stroke-linejoin="round"/>
<polygon points="1049.23,570.33 1045.38,573.07 1052.86,576.1 1056.6,573.28" fill="#481a6c" stroke="#000" stroke-width="0.75" stroke-linejoin="round"/>
<polygon points="1030.77,568.84 1026.58,568.34 1033.95,570.48 1038.01,570.94" fill="#482979" stroke="#000" stroke-width="0.75" stroke-linejoin="round"/>
<polygon points="982.2,507.4 977.08,511.7 986.63,556.68 991.47,554.18" fill="#1f998a" stroke="#000" stroke-width="0.75" stroke-linejoin="round"/>
<polygon points="993.59,561.06 988.75,564.98 995.81,567.97 1000.58,563.97" fill="#443b84" stroke="#000" stroke-width="0.75" stroke-linejoin="round"/>
<polygon points="1012.22,563.32 1007.65,566.05 1014.86,568.17 1019.33,565.38" fill="#443983" stroke="#000" stroke-width="0.75" stroke-linejoin="round"/>
<polygon points="1038.01,570.94 1033.95,570.48 1041.46,572.66 1045.38,573.07" fill="#472a7a" stroke="#000" stroke-width="0.75" stroke-linejoin="round"/>
<polygon points="1000.58,563.97 995.81,567.97 1002.96,570.12 1007.65,566.05" fill="#443b84" stroke="#000" stroke-width="0.75" stroke-linejoin="round"/>
<polygon points="1019.33,565.38 1014.86,568.17 1022.21,571.21 1026.58,568.34" fill="#443983" stroke="#000" stroke-width="0.75" stroke-linejoin="round"/>
<polygon points="1045.38,573.07 1041.46,572.66 1049.08,575.76 1052.86,576.1" fill="#482979" stroke="#000" stroke-width="0.75" stroke-linejoin="round"/>
<polygon points="977.08,511.7 971.78,515.92 981.7,560.5 986.63,556.68" fill="#1f988b" stroke="#000" stroke-width="0.75" stroke-linejoin="round"/>
<polygon points="1026.58,568.34 1022.21,571.21 1029.68,573.41 1033.95,570.48" fill="#453882" stroke="#000" stroke-width="0.75" stroke-linejoin="round"/>
<polygon points="1007.65,566.05 1002.96,570.12 1010.25,572.32 1014.86,568.17" fill="#433d84" stroke="#000" stroke-width="0.75" stroke-linejoin="round"/>
<polygon points="1014.86,568.17 1010.25,572.32 1017.68,575.44 1022.21,571.21" fill="#443b84" stroke="#000" stroke-width="0.75" stroke-linejoin="round"/>
<polygon points="1033.95,570.48 1029.68,573.41 1037.29,575.66 1041.46,572.66" fill="#443983" stroke="#000" stroke-width="0.75" stroke-linejoin="round"/>
<polygon points="1022.21,571.21 1017.68,575.44 1025.24,577.73 1029.68,573.41" fill="#443b84" stroke="#000" stroke-width="0.75" stroke-linejoin="round"/>
<polygon points="1041.46,572.66 1037.29,575.66 1045.02,578.85 1049.08,575.76" fill="#443983" stroke="#000" stroke-width="0.75" stroke-linejoin="round"/>
<polygon points="1029.68,573.41 1025.24,577.73 1032.94,580.06 1037.29,575.66" fill="#433d84" stroke="#000" stroke-width="0.75" stroke-linejoin="round"/>
<polygon points="1037.29,575.66 1032.94,580.06 1040.78,583.34 1045.02,578.85" fill="#443b84" stroke="#000" stroke-width="0.75" stroke-linejoin="round"/>
<line x1="971" y1="505.16" x2="1042.12" y2="524.5" stroke="#222" stroke-width="1.0"/>
<line x1="1042.12" y1="524.5" x2="1078.05" y2="494.17" stroke="#222" stroke-width="1.0"/>
<line x1="971" y1="505.16" x2="975.84" y2="571.4" stroke="#222" stroke-width="1.0"/>
<line x1="1042.12" y1="524.5" x2="1040.52" y2="594.36" stroke="#222" stroke-width="1.0"/>
<line x1="1078.05" y1="494.17" x2="1073.68" y2="557.14" stroke="#222" stroke-width="1.0"/>
<line x1="975.84" y1="571.4" x2="1040.52" y2="594.36" stroke="#222" stroke-width="1.0"/>
<line x1="1040.52" y1="594.36" x2="1073.68" y2="557.14" stroke="#222" stroke-width="1.0"/>
</g>
<rect x="941.25" y="455.6" width="165" height="165.2" fill="none" stroke="#5e5e5e" stroke-width="1.7"/>
<rect x="1115.45" y="455.7" width="25.4" height="164.5" fill="url(#vir)" stroke="#111" stroke-width="1.2"/>
<line x1="1140.85" x2="1148.05" y1="595.8" y2="595.8" stroke="#3a3a3a" stroke-width="1.4"/>
<text transform="translate(1153.65,602.1) scale(1,1.19)" class="cb">14</text>
<line x1="1140.85" x2="1148.05" y1="570.6" y2="570.6" stroke="#3a3a3a" stroke-width="1.4"/>
<text transform="translate(1153.65,576.9) scale(1,1.19)" class="cb">15</text>
<line x1="1140.85" x2="1148.05" y1="545.4" y2="545.4" stroke="#3a3a3a" stroke-width="1.4"/>
<text transform="translate(1153.65,551.7) scale(1,1.19)" class="cb">16</text>
<line x1="1140.85" x2="1148.05" y1="520.2" y2="520.2" stroke="#3a3a3a" stroke-width="1.4"/>
<text transform="translate(1153.65,526.5) scale(1,1.19)" class="cb">17</text>
<line x1="1140.85" x2="1148.05" y1="495" y2="495" stroke="#3a3a3a" stroke-width="1.4"/>
<text transform="translate(1153.65,501.3) scale(1,1.19)" class="cb">18</text>
<line x1="1140.85" x2="1148.05" y1="469.8" y2="469.8" stroke="#3a3a3a" stroke-width="1.4"/>
<text transform="translate(1153.65,476.1) scale(1,1.19)" class="cb">19</text>
<g clip-path="url(#clip5)">
<text transform="translate(75,703.6) scale(1,1.06)" text-anchor="middle" class="lab3" textLength="55.5" lengthAdjust="spacingAndGlyphs">USDTL</text>
<text transform="translate(142.5,697.3) scale(1,1.06)" text-anchor="middle" class="lab3" textLength="81.7" lengthAdjust="spacingAndGlyphs">EMISSION</text>
<text transform="translate(62,769.6) scale(1,1.06)" text-anchor="end" class="lab3">yhat</text>
<line x1="94" y1="699.4" x2="69.6" y2="714" stroke="#222" stroke-width="1.0"/><polygon points="73.58,713.64 69.6,714 71.8,710.66" fill="#222" stroke="#222" stroke-width="0.6"/>
<line x1="109.8" y1="696.2" x2="161" y2="704.4" stroke="#222" stroke-width="1.0"/><polygon points="157.72,702.11 161,704.4 157.17,705.55" fill="#222" stroke="#222" stroke-width="0.6"/>
<line x1="62.5" y1="782" x2="58.2" y2="739" stroke="#222" stroke-width="1.0"/><polygon points="56.83,742.76 58.2,739 60.29,742.41" fill="#222" stroke="#222" stroke-width="0.6"/>
<line x1="107.67" y1="758.56" x2="68.59" y2="790.4" stroke="#222" stroke-width="1.0" stroke-dasharray="4,3"/>
<line x1="107.67" y1="758.56" x2="166.43" y2="776.14" stroke="#222" stroke-width="1.0" stroke-dasharray="4,3"/>
<line x1="107.67" y1="758.56" x2="106.78" y2="698.67" stroke="#222" stroke-width="1.0" stroke-dasharray="4,3"/>
<line x1="106.78" y1="698.67" x2="63.75" y2="724.16" stroke="#222" stroke-width="1.0"/>
<line x1="106.78" y1="698.67" x2="170.8" y2="713.17" stroke="#222" stroke-width="1.0"/>
<polygon points="120.11,733.3 116.23,736.73 122.88,738.75 126.7,735.27" fill="#218f8d" stroke="#000" stroke-width="0.75" stroke-linejoin="round"/>
<polygon points="126.7,735.27 122.88,738.75 129.63,740.68 133.38,737.15" fill="#218e8d" stroke="#000" stroke-width="0.75" stroke-linejoin="round"/>
<polygon points="116.23,736.73 112.3,747.73 118.94,749.85 122.88,738.75" fill="#277e8e" stroke="#000" stroke-width="0.75" stroke-linejoin="round"/>
<polygon points="113.44,701.09 109.32,704.15 116.23,736.73 120.11,733.3" fill="#58c765" stroke="#000" stroke-width="0.75" stroke-linejoin="round"/>
<polygon points="112.3,747.73 108.3,756.99 114.96,759.19 118.94,749.85" fill="#34618d" stroke="#000" stroke-width="0.75" stroke-linejoin="round"/>
<polygon points="133.38,737.15 129.63,740.68 136.49,742.65 140.18,739.06" fill="#218e8d" stroke="#000" stroke-width="0.75" stroke-linejoin="round"/>
<polygon points="122.88,738.75 118.94,749.85 125.69,751.88 129.63,740.68" fill="#287d8e" stroke="#000" stroke-width="0.75" stroke-linejoin="round"/>
<polygon points="153.43,756.3 149.95,760.14 156.99,762.72 160.39,758.82" fill="#3a548c" stroke="#000" stroke-width="0.75" stroke-linejoin="round"/>
<polygon points="109.32,704.15 105.23,715.39 112.3,747.73 116.23,736.73" fill="#37b878" stroke="#000" stroke-width="0.75" stroke-linejoin="round"/>
<polygon points="147.08,741 143.47,744.65 149.95,760.14 153.43,756.3" fill="#2c728e" stroke="#000" stroke-width="0.75" stroke-linejoin="round"/>
<polygon points="118.94,749.85 114.96,759.19 121.73,761.32 125.69,751.88" fill="#34618d" stroke="#000" stroke-width="0.75" stroke-linejoin="round"/>
<polygon points="140.18,739.06 136.49,742.65 143.47,744.65 147.08,741" fill="#228d8d" stroke="#000" stroke-width="0.75" stroke-linejoin="round"/>
<polygon points="108.3,756.99 104.17,762.07 110.89,764.33 114.96,759.19" fill="#3c508b" stroke="#000" stroke-width="0.75" stroke-linejoin="round"/>
<polygon points="129.63,740.68 125.69,751.88 132.55,753.95 136.49,742.65" fill="#287d8e" stroke="#000" stroke-width="0.75" stroke-linejoin="round"/>
<polygon points="106.78,698.98 102.6,701.99 109.32,704.15 113.44,701.09" fill="#f6e620" stroke="#000" stroke-width="0.75" stroke-linejoin="round"/>
<polygon points="105.23,715.39 101.05,724.74 108.3,756.99 112.3,747.73" fill="#1e9d89" stroke="#000" stroke-width="0.75" stroke-linejoin="round"/>
<polygon points="160.39,758.82 156.99,762.72 164.17,764.78 167.49,760.82" fill="#3a538b" stroke="#000" stroke-width="0.75" stroke-linejoin="round"/>
<polygon points="149.95,760.14 146.08,771.47 153.12,774.15 156.99,762.72" fill="#424086" stroke="#000" stroke-width="0.75" stroke-linejoin="round"/>
<polygon points="125.69,751.88 121.73,761.32 128.6,763.47 132.55,753.95" fill="#34608d" stroke="#000" stroke-width="0.75" stroke-linejoin="round"/>
<polygon points="143.47,744.65 139.52,756.05 146.08,771.47 149.95,760.14" fill="#34618d" stroke="#000" stroke-width="0.75" stroke-linejoin="round"/>
<polygon points="114.96,759.19 110.89,764.33 117.71,766.53 121.73,761.32" fill="#3c4f8a" stroke="#000" stroke-width="0.75" stroke-linejoin="round"/>
<polygon points="136.49,742.65 132.55,753.95 139.52,756.05 143.47,744.65" fill="#287c8e" stroke="#000" stroke-width="0.75" stroke-linejoin="round"/>
<polygon points="102.6,701.99 98.51,713.14 105.23,715.39 109.32,704.15" fill="#c8e020" stroke="#000" stroke-width="0.75" stroke-linejoin="round"/>
<polygon points="146.08,771.47 142.23,781.1 149.29,783.86 153.12,774.15" fill="#481c6e" stroke="#000" stroke-width="0.75" stroke-linejoin="round"/>
<polygon points="139.52,756.05 135.59,765.67 142.23,781.1 146.08,771.47" fill="#424086" stroke="#000" stroke-width="0.75" stroke-linejoin="round"/>
<polygon points="101.05,724.74 96.68,729.56 104.17,762.07 108.3,756.99" fill="#218e8d" stroke="#000" stroke-width="0.75" stroke-linejoin="round"/>
<polygon points="156.99,762.72 153.12,774.15 160.29,776.31 164.17,764.78" fill="#423f85" stroke="#000" stroke-width="0.75" stroke-linejoin="round"/>
<polygon points="132.55,753.95 128.6,763.47 135.59,765.67 139.52,756.05" fill="#34608d" stroke="#000" stroke-width="0.75" stroke-linejoin="round"/>
<polygon points="104.17,762.07 99.86,764.7 106.66,767.03 110.89,764.33" fill="#3d4e8a" stroke="#000" stroke-width="0.75" stroke-linejoin="round"/>
<polygon points="98.51,713.14 94.32,722.4 101.05,724.74 105.23,715.39" fill="#7cd250" stroke="#000" stroke-width="0.75" stroke-linejoin="round"/>
<polygon points="121.73,761.32 117.71,766.53 124.64,768.76 128.6,763.47" fill="#3c4f8a" stroke="#000" stroke-width="0.75" stroke-linejoin="round"/>
<polygon points="153.12,774.15 149.29,783.86 156.49,786.12 160.29,776.31" fill="#481b6d" stroke="#000" stroke-width="0.75" stroke-linejoin="round"/>
<polygon points="142.23,781.1 138.46,786.6 145.59,789.44 149.29,783.86" fill="#450457" stroke="#000" stroke-width="0.75" stroke-linejoin="round"/>
<polygon points="135.59,765.67 131.69,771.02 138.46,786.6 142.23,781.1" fill="#472d7b" stroke="#000" stroke-width="0.75" stroke-linejoin="round"/>
<polygon points="110.89,764.33 106.66,767.03 113.56,769.29 117.71,766.53" fill="#3d4e8a" stroke="#000" stroke-width="0.75" stroke-linejoin="round"/>
<polygon points="128.6,763.47 124.64,768.76 131.69,771.02 135.59,765.67" fill="#3d4e8a" stroke="#000" stroke-width="0.75" stroke-linejoin="round"/>
<polygon points="94.32,722.4 89.89,727.15 96.68,729.56 101.05,724.74" fill="#56c667" stroke="#000" stroke-width="0.75" stroke-linejoin="round"/>
<polygon points="96.68,729.56 92.09,731.72 99.86,764.7 104.17,762.07" fill="#228c8d" stroke="#000" stroke-width="0.75" stroke-linejoin="round"/>
<polygon points="149.29,783.86 145.59,789.44 152.85,791.78 156.49,786.12" fill="#440256" stroke="#000" stroke-width="0.75" stroke-linejoin="round"/>
<polygon points="117.71,766.53 113.56,769.29 120.58,771.58 124.64,768.76" fill="#3d4d8a" stroke="#000" stroke-width="0.75" stroke-linejoin="round"/>
<polygon points="99.86,764.7 95.38,766.58 102.26,768.96 106.66,767.03" fill="#3a548c" stroke="#000" stroke-width="0.75" stroke-linejoin="round"/>
<polygon points="138.46,786.6 134.65,789.71 141.87,792.63 145.59,789.44" fill="#440256" stroke="#000" stroke-width="0.75" stroke-linejoin="round"/>
<polygon points="131.69,771.02 127.72,773.91 134.65,789.71 138.46,786.6" fill="#472a7a" stroke="#000" stroke-width="0.75" stroke-linejoin="round"/>
<polygon points="124.64,768.76 120.58,771.58 127.72,773.91 131.69,771.02" fill="#3d4d8a" stroke="#000" stroke-width="0.75" stroke-linejoin="round"/>
<polygon points="106.66,767.03 102.26,768.96 109.26,771.27 113.56,769.29" fill="#3a538b" stroke="#000" stroke-width="0.75" stroke-linejoin="round"/>
<polygon points="89.89,727.15 85.22,729.26 92.09,731.72 96.68,729.56" fill="#54c568" stroke="#000" stroke-width="0.75" stroke-linejoin="round"/>
<polygon points="145.59,789.44 141.87,792.63 149.22,795.04 152.85,791.78" fill="#440154" stroke="#000" stroke-width="0.75" stroke-linejoin="round"/>
<polygon points="92.09,731.72 87.3,733.03 95.38,766.58 99.86,764.7" fill="#20928c" stroke="#000" stroke-width="0.75" stroke-linejoin="round"/>
<polygon points="113.56,769.29 109.26,771.27 116.37,773.62 120.58,771.58" fill="#3b528b" stroke="#000" stroke-width="0.75" stroke-linejoin="round"/>
<polygon points="95.38,766.58 90.57,764.44 97.58,766.87 102.26,768.96" fill="#32648e" stroke="#000" stroke-width="0.75" stroke-linejoin="round"/>
<polygon points="134.65,789.71 130.72,792.1 138.04,795.09 141.87,792.63" fill="#460a5d" stroke="#000" stroke-width="0.75" stroke-linejoin="round"/>
<polygon points="127.72,773.91 123.61,776.01 130.72,792.1 134.65,789.71" fill="#46327e" stroke="#000" stroke-width="0.75" stroke-linejoin="round"/>
<polygon points="120.58,771.58 116.37,773.62 123.61,776.01 127.72,773.91" fill="#3b528b" stroke="#000" stroke-width="0.75" stroke-linejoin="round"/>
<polygon points="85.22,729.26 80.33,730.51 87.3,733.03 92.09,731.72" fill="#5ec962" stroke="#000" stroke-width="0.75" stroke-linejoin="round"/>
<polygon points="102.26,768.96 97.58,766.87 104.71,769.22 109.26,771.27" fill="#33638d" stroke="#000" stroke-width="0.75" stroke-linejoin="round"/>
<polygon points="141.87,792.63 138.04,795.09 145.51,797.56 149.22,795.04" fill="#46085c" stroke="#000" stroke-width="0.75" stroke-linejoin="round"/>
<polygon points="87.3,733.03 82.1,729.96 90.57,764.44 95.38,766.58" fill="#1fa088" stroke="#000" stroke-width="0.75" stroke-linejoin="round"/>
<polygon points="109.26,771.27 104.71,769.22 111.97,771.61 116.37,773.62" fill="#33638d" stroke="#000" stroke-width="0.75" stroke-linejoin="round"/>
<polygon points="90.57,764.44 85.72,766.51 92.82,769 97.58,766.87" fill="#2c728e" stroke="#000" stroke-width="0.75" stroke-linejoin="round"/>
<polygon points="130.72,792.1 126.69,790.56 134.16,793.61 138.04,795.09" fill="#481f70" stroke="#000" stroke-width="0.75" stroke-linejoin="round"/>
<polygon points="123.61,776.01 119.35,774.05 126.69,790.56 130.72,792.1" fill="#414487" stroke="#000" stroke-width="0.75" stroke-linejoin="round"/>
<polygon points="116.37,773.62 111.97,771.61 119.35,774.05 123.61,776.01" fill="#33628d" stroke="#000" stroke-width="0.75" stroke-linejoin="round"/>
<polygon points="80.33,730.51 75,727.4 82.1,729.96 87.3,733.03" fill="#81d34d" stroke="#000" stroke-width="0.75" stroke-linejoin="round"/>
<polygon points="97.58,766.87 92.82,769 100.05,771.42 104.71,769.22" fill="#2c718e" stroke="#000" stroke-width="0.75" stroke-linejoin="round"/>
<polygon points="138.04,795.09 134.16,793.61 141.78,796.14 145.51,797.56" fill="#481d6f" stroke="#000" stroke-width="0.75" stroke-linejoin="round"/>
<polygon points="82.1,729.96 76.9,731.43 85.72,766.51 90.57,764.44" fill="#27ad81" stroke="#000" stroke-width="0.75" stroke-linejoin="round"/>
<polygon points="104.71,769.22 100.05,771.42 107.4,773.88 111.97,771.61" fill="#2c718e" stroke="#000" stroke-width="0.75" stroke-linejoin="round"/>
<polygon points="85.72,766.51 80.76,770.25 87.95,772.82 92.82,769" fill="#2a768e" stroke="#000" stroke-width="0.75" stroke-linejoin="round"/>
<polygon points="126.69,790.56 122.42,793.18 130.01,796.32 134.16,793.61" fill="#46337f" stroke="#000" stroke-width="0.75" stroke-linejoin="round"/>
<polygon points="119.35,774.05 114.89,776.38 122.42,793.18 126.69,790.56" fill="#3a548c" stroke="#000" stroke-width="0.75" stroke-linejoin="round"/>
<polygon points="111.97,771.61 107.4,773.88 114.89,776.38 119.35,774.05" fill="#2c718e" stroke="#000" stroke-width="0.75" stroke-linejoin="round"/>
<polygon points="92.82,769 87.95,772.82 95.25,775.31 100.05,771.42" fill="#2b758e" stroke="#000" stroke-width="0.75" stroke-linejoin="round"/>
<polygon points="75,727.4 69.7,728.81 76.9,731.43 82.1,729.96" fill="#aadc32" stroke="#000" stroke-width="0.75" stroke-linejoin="round"/>
<polygon points="134.16,793.61 130.01,796.32 137.74,798.92 141.78,796.14" fill="#46307e" stroke="#000" stroke-width="0.75" stroke-linejoin="round"/>
<polygon points="76.9,731.43 71.6,734.7 80.76,770.25 85.72,766.51" fill="#2cb17e" stroke="#000" stroke-width="0.75" stroke-linejoin="round"/>
<polygon points="100.05,771.42 95.25,775.31 102.69,777.85 107.4,773.88" fill="#2b758e" stroke="#000" stroke-width="0.75" stroke-linejoin="round"/>
<polygon points="122.42,793.18 117.99,797.48 125.67,800.71 130.01,796.32" fill="#453781" stroke="#000" stroke-width="0.75" stroke-linejoin="round"/>
<polygon points="114.89,776.38 110.27,780.43 117.99,797.48 122.42,793.18" fill="#38598c" stroke="#000" stroke-width="0.75" stroke-linejoin="round"/>
<polygon points="107.4,773.88 102.69,777.85 110.27,780.43 114.89,776.38" fill="#2b748e" stroke="#000" stroke-width="0.75" stroke-linejoin="round"/>
<polygon points="69.7,728.81 64.32,732 71.6,734.7 76.9,731.43" fill="#b2dd2d" stroke="#000" stroke-width="0.75" stroke-linejoin="round"/>
<polygon points="130.01,796.32 125.67,800.71 133.5,803.4 137.74,798.92" fill="#453581" stroke="#000" stroke-width="0.75" stroke-linejoin="round"/>
<line x1="63.75" y1="724.16" x2="134.87" y2="743.5" stroke="#222" stroke-width="1.0"/>
<line x1="134.87" y1="743.5" x2="170.8" y2="713.17" stroke="#222" stroke-width="1.0"/>
<line x1="63.75" y1="724.16" x2="68.59" y2="790.4" stroke="#222" stroke-width="1.0"/>
<line x1="134.87" y1="743.5" x2="133.27" y2="813.36" stroke="#222" stroke-width="1.0"/>
<line x1="170.8" y1="713.17" x2="166.43" y2="776.14" stroke="#222" stroke-width="1.0"/>
<line x1="68.59" y1="790.4" x2="133.27" y2="813.36" stroke="#222" stroke-width="1.0"/>
<line x1="133.27" y1="813.36" x2="166.43" y2="776.14" stroke="#222" stroke-width="1.0"/>
</g>
<rect x="34" y="674.6" width="165" height="164.1" fill="none" stroke="#5e5e5e" stroke-width="1.7"/>
<rect x="208.2" y="674.7" width="25.4" height="163.4" fill="url(#vir)" stroke="#111" stroke-width="1.2"/>
<line x1="233.6" x2="240.8" y1="817.9" y2="817.9" stroke="#3a3a3a" stroke-width="1.4"/>
<text transform="translate(246.4,824.2) scale(1,1.19)" class="cb">14</text>
<line x1="233.6" x2="240.8" y1="787.85" y2="787.85" stroke="#3a3a3a" stroke-width="1.4"/>
<text transform="translate(246.4,794.15) scale(1,1.19)" class="cb">15</text>
<line x1="233.6" x2="240.8" y1="757.8" y2="757.8" stroke="#3a3a3a" stroke-width="1.4"/>
<text transform="translate(246.4,764.1) scale(1,1.19)" class="cb">16</text>
<line x1="233.6" x2="240.8" y1="727.75" y2="727.75" stroke="#3a3a3a" stroke-width="1.4"/>
<text transform="translate(246.4,734.05) scale(1,1.19)" class="cb">17</text>
<line x1="233.6" x2="240.8" y1="697.7" y2="697.7" stroke="#3a3a3a" stroke-width="1.4"/>
<text transform="translate(246.4,704) scale(1,1.19)" class="cb">18</text>
<g clip-path="url(#clip6)">
<text transform="translate(378,703.5) scale(1,1.06)" text-anchor="middle" class="lab3" textLength="93.2" lengthAdjust="spacingAndGlyphs">CBRT_SEC</text>
<text transform="translate(445.5,697.2) scale(1,1.06)" text-anchor="middle" class="lab3" textLength="81.7" lengthAdjust="spacingAndGlyphs">EMISSION</text>
<text transform="translate(365,769.5) scale(1,1.06)" text-anchor="end" class="lab3">yhat</text>
<line x1="397" y1="699.3" x2="372.6" y2="713.9" stroke="#222" stroke-width="1.0"/><polygon points="376.58,713.54 372.6,713.9 374.8,710.56" fill="#222" stroke="#222" stroke-width="0.6"/>
<line x1="412.8" y1="696.1" x2="464" y2="704.3" stroke="#222" stroke-width="1.0"/><polygon points="460.72,702.01 464,704.3 460.17,705.45" fill="#222" stroke="#222" stroke-width="0.6"/>
<line x1="365.5" y1="781.9" x2="361.2" y2="738.9" stroke="#222" stroke-width="1.0"/><polygon points="359.83,742.66 361.2,738.9 363.29,742.31" fill="#222" stroke="#222" stroke-width="0.6"/>
<line x1="410.67" y1="758.46" x2="371.59" y2="790.3" stroke="#222" stroke-width="1.0" stroke-dasharray="4,3"/>
<line x1="410.67" y1="758.46" x2="469.43" y2="776.04" stroke="#222" stroke-width="1.0" stroke-dasharray="4,3"/>
<line x1="410.67" y1="758.46" x2="409.78" y2="698.57" stroke="#222" stroke-width="1.0" stroke-dasharray="4,3"/>
<line x1="409.78" y1="698.57" x2="366.75" y2="724.06" stroke="#222" stroke-width="1.0"/>
<line x1="409.78" y1="698.57" x2="473.8" y2="713.07" stroke="#222" stroke-width="1.0"/>
<polygon points="419.29,757.03 415.4,760.48 421.93,762.44 425.75,758.94" fill="#46337f" stroke="#000" stroke-width="0.75" stroke-linejoin="round"/>
<polygon points="423.14,722.5 419.29,757.03 425.75,758.94 429.82,724.18" fill="#297a8e" stroke="#000" stroke-width="0.75" stroke-linejoin="round"/>
<polygon points="425.75,758.94 421.93,762.44 428.56,764.43 432.32,760.87" fill="#46337f" stroke="#000" stroke-width="0.75" stroke-linejoin="round"/>
<polygon points="412.64,731.28 408.59,736.3 415.4,760.48 419.29,757.03" fill="#30698e" stroke="#000" stroke-width="0.75" stroke-linejoin="round"/>
<polygon points="416.49,709.54 412.64,731.28 419.29,757.03 423.14,722.5" fill="#1f9e89" stroke="#000" stroke-width="0.75" stroke-linejoin="round"/>
<polygon points="415.4,760.48 411.4,764.03 418,766.04 421.93,762.44" fill="#46327e" stroke="#000" stroke-width="0.75" stroke-linejoin="round"/>
<polygon points="429.82,724.18 425.75,758.94 432.32,760.87 436.61,725.89" fill="#297a8e" stroke="#000" stroke-width="0.75" stroke-linejoin="round"/>
<polygon points="432.32,760.87 428.56,764.43 435.3,766.45 438.99,762.83" fill="#46337f" stroke="#000" stroke-width="0.75" stroke-linejoin="round"/>
<polygon points="406.17,729.56 402.07,734.52 408.59,736.3 412.64,731.28" fill="#1f988b" stroke="#000" stroke-width="0.75" stroke-linejoin="round"/>
<polygon points="409.78,698.59 406.17,729.56 412.64,731.28 416.49,709.54" fill="#56c667" stroke="#000" stroke-width="0.75" stroke-linejoin="round"/>
<polygon points="408.59,736.3 404.39,739.36 411.4,764.03 415.4,760.48" fill="#31678e" stroke="#000" stroke-width="0.75" stroke-linejoin="round"/>
<polygon points="421.93,762.44 418,766.04 424.7,768.09 428.56,764.43" fill="#46327e" stroke="#000" stroke-width="0.75" stroke-linejoin="round"/>
<polygon points="436.61,725.89 432.32,760.87 438.99,762.83 443.52,727.62" fill="#297a8e" stroke="#000" stroke-width="0.75" stroke-linejoin="round"/>
<polygon points="438.99,762.83 435.3,766.45 442.15,768.5 445.76,764.83" fill="#46337f" stroke="#000" stroke-width="0.75" stroke-linejoin="round"/>
<polygon points="445.76,764.83 442.15,768.5 448.81,778.1 452.31,774.36" fill="#481d6f" stroke="#000" stroke-width="0.75" stroke-linejoin="round"/>
<polygon points="452.31,774.36 448.81,778.1 455.81,780.27 459.23,776.46" fill="#46075a" stroke="#000" stroke-width="0.75" stroke-linejoin="round"/>
<polygon points="411.4,764.03 407.29,767.68 413.94,769.76 418,766.04" fill="#46307e" stroke="#000" stroke-width="0.75" stroke-linejoin="round"/>
<polygon points="402.07,734.52 397.8,737.53 404.39,739.36 408.59,736.3" fill="#1f948c" stroke="#000" stroke-width="0.75" stroke-linejoin="round"/>
<polygon points="428.56,764.43 424.7,768.09 431.5,770.17 435.3,766.45" fill="#46327e" stroke="#000" stroke-width="0.75" stroke-linejoin="round"/>
<polygon points="443.52,727.62 438.99,762.83 445.76,764.83 450.53,729.39" fill="#297a8e" stroke="#000" stroke-width="0.75" stroke-linejoin="round"/>
<polygon points="450.53,729.39 445.76,764.83 452.31,774.36 457.42,736.19" fill="#2e6e8e" stroke="#000" stroke-width="0.75" stroke-linejoin="round"/>
<polygon points="459.23,776.46 455.81,780.27 462.92,782.46 466.26,778.59" fill="#46075a" stroke="#000" stroke-width="0.75" stroke-linejoin="round"/>
<polygon points="404.39,739.36 400.06,742.51 407.29,767.68 411.4,764.03" fill="#31668e" stroke="#000" stroke-width="0.75" stroke-linejoin="round"/>
<polygon points="418,766.04 413.94,769.76 420.71,771.87 424.7,768.09" fill="#46307e" stroke="#000" stroke-width="0.75" stroke-linejoin="round"/>
<polygon points="457.42,736.19 452.31,774.36 459.23,776.46 464.62,738.04" fill="#34618d" stroke="#000" stroke-width="0.75" stroke-linejoin="round"/>
<polygon points="435.3,766.45 431.5,770.17 438.43,772.29 442.15,768.5" fill="#46327e" stroke="#000" stroke-width="0.75" stroke-linejoin="round"/>
<polygon points="442.15,768.5 438.43,772.29 445.2,781.96 448.81,778.1" fill="#481d6f" stroke="#000" stroke-width="0.75" stroke-linejoin="round"/>
<polygon points="448.81,778.1 445.2,781.96 452.27,784.19 455.81,780.27" fill="#450559" stroke="#000" stroke-width="0.75" stroke-linejoin="round"/>
<polygon points="407.29,767.68 403.04,771.44 409.77,773.58 413.94,769.76" fill="#472f7d" stroke="#000" stroke-width="0.75" stroke-linejoin="round"/>
<polygon points="397.8,737.53 393.41,740.63 400.06,742.51 404.39,739.36" fill="#1f948c" stroke="#000" stroke-width="0.75" stroke-linejoin="round"/>
<polygon points="424.7,768.09 420.71,771.87 427.59,774.01 431.5,770.17" fill="#46307e" stroke="#000" stroke-width="0.75" stroke-linejoin="round"/>
<polygon points="464.62,738.04 459.23,776.46 466.26,778.59 471.94,739.93" fill="#34618d" stroke="#000" stroke-width="0.75" stroke-linejoin="round"/>
<polygon points="455.81,780.27 452.27,784.19 459.46,786.45 462.92,782.46" fill="#450559" stroke="#000" stroke-width="0.75" stroke-linejoin="round"/>
<polygon points="400.06,742.51 395.59,745.76 403.04,771.44 407.29,767.68" fill="#31668e" stroke="#000" stroke-width="0.75" stroke-linejoin="round"/>
<polygon points="413.94,769.76 409.77,773.58 416.61,775.76 420.71,771.87" fill="#472f7d" stroke="#000" stroke-width="0.75" stroke-linejoin="round"/>
<polygon points="431.5,770.17 427.59,774.01 434.59,776.19 438.43,772.29" fill="#46307e" stroke="#000" stroke-width="0.75" stroke-linejoin="round"/>
<polygon points="438.43,772.29 434.59,776.19 441.48,785.93 445.2,781.96" fill="#481c6e" stroke="#000" stroke-width="0.75" stroke-linejoin="round"/>
<polygon points="445.2,781.96 441.48,785.93 448.63,788.23 452.27,784.19" fill="#450559" stroke="#000" stroke-width="0.75" stroke-linejoin="round"/>
<polygon points="403.04,771.44 398.67,775.32 405.46,777.53 409.77,773.58" fill="#472e7c" stroke="#000" stroke-width="0.75" stroke-linejoin="round"/>
<polygon points="393.41,740.63 388.87,743.82 395.59,745.76 400.06,742.51" fill="#1f948c" stroke="#000" stroke-width="0.75" stroke-linejoin="round"/>
<polygon points="420.71,771.87 416.61,775.76 423.56,777.97 427.59,774.01" fill="#472f7d" stroke="#000" stroke-width="0.75" stroke-linejoin="round"/>
<polygon points="452.27,784.19 448.63,788.23 455.9,790.56 459.46,786.45" fill="#450559" stroke="#000" stroke-width="0.75" stroke-linejoin="round"/>
<polygon points="409.77,773.58 405.46,777.53 412.37,779.77 416.61,775.76" fill="#472e7c" stroke="#000" stroke-width="0.75" stroke-linejoin="round"/>
<polygon points="395.59,745.76 390.98,749.12 398.67,775.32 403.04,771.44" fill="#32658e" stroke="#000" stroke-width="0.75" stroke-linejoin="round"/>
<polygon points="427.59,774.01 423.56,777.97 430.63,780.22 434.59,776.19" fill="#472f7d" stroke="#000" stroke-width="0.75" stroke-linejoin="round"/>
<polygon points="434.59,776.19 430.63,780.22 437.64,790.03 441.48,785.93" fill="#481b6d" stroke="#000" stroke-width="0.75" stroke-linejoin="round"/>
<polygon points="398.67,775.32 394.16,779.33 401.02,781.6 405.46,777.53" fill="#472d7b" stroke="#000" stroke-width="0.75" stroke-linejoin="round"/>
<polygon points="441.48,785.93 437.64,790.03 444.87,792.4 448.63,788.23" fill="#450457" stroke="#000" stroke-width="0.75" stroke-linejoin="round"/>
<polygon points="416.61,775.76 412.37,779.77 419.4,782.05 423.56,777.97" fill="#472e7c" stroke="#000" stroke-width="0.75" stroke-linejoin="round"/>
<polygon points="388.87,743.82 384.19,747.12 390.98,749.12 395.59,745.76" fill="#1f948c" stroke="#000" stroke-width="0.75" stroke-linejoin="round"/>
<polygon points="405.46,777.53 401.02,781.6 408,783.91 412.37,779.77" fill="#472d7b" stroke="#000" stroke-width="0.75" stroke-linejoin="round"/>
<polygon points="448.63,788.23 444.87,792.4 452.23,794.81 455.9,790.56" fill="#450457" stroke="#000" stroke-width="0.75" stroke-linejoin="round"/>
<polygon points="390.98,749.12 386.21,752.59 394.16,779.33 398.67,775.32" fill="#32658e" stroke="#000" stroke-width="0.75" stroke-linejoin="round"/>
<polygon points="423.56,777.97 419.4,782.05 426.54,784.37 430.63,780.22" fill="#472e7c" stroke="#000" stroke-width="0.75" stroke-linejoin="round"/>
<polygon points="430.63,780.22 426.54,784.37 433.68,794.26 437.64,790.03" fill="#481a6c" stroke="#000" stroke-width="0.75" stroke-linejoin="round"/>
<polygon points="394.16,779.33 389.51,783.45 396.44,785.8 401.02,781.6" fill="#472c7a" stroke="#000" stroke-width="0.75" stroke-linejoin="round"/>
<polygon points="437.64,790.03 433.68,794.26 440.99,796.7 444.87,792.4" fill="#450457" stroke="#000" stroke-width="0.75" stroke-linejoin="round"/>
<polygon points="412.37,779.77 408,783.91 415.1,786.27 419.4,782.05" fill="#472d7b" stroke="#000" stroke-width="0.75" stroke-linejoin="round"/>
<polygon points="384.19,747.12 379.36,750.52 386.21,752.59 390.98,749.12" fill="#1f948c" stroke="#000" stroke-width="0.75" stroke-linejoin="round"/>
<polygon points="401.02,781.6 396.44,785.8 403.49,788.19 408,783.91" fill="#472c7a" stroke="#000" stroke-width="0.75" stroke-linejoin="round"/>
<polygon points="444.87,792.4 440.99,796.7 448.44,799.19 452.23,794.81" fill="#450457" stroke="#000" stroke-width="0.75" stroke-linejoin="round"/>
<polygon points="386.21,752.59 381.29,756.17 389.51,783.45 394.16,779.33" fill="#32648e" stroke="#000" stroke-width="0.75" stroke-linejoin="round"/>
<polygon points="419.4,782.05 415.1,786.27 422.33,788.66 426.54,784.37" fill="#472d7b" stroke="#000" stroke-width="0.75" stroke-linejoin="round"/>
<polygon points="426.54,784.37 422.33,788.66 429.59,798.63 433.68,794.26" fill="#481a6c" stroke="#000" stroke-width="0.75" stroke-linejoin="round"/>
<polygon points="389.51,783.45 384.7,787.72 391.7,790.14 396.44,785.8" fill="#472c7a" stroke="#000" stroke-width="0.75" stroke-linejoin="round"/>
<polygon points="433.68,794.26 429.59,798.63 436.99,801.15 440.99,796.7" fill="#440256" stroke="#000" stroke-width="0.75" stroke-linejoin="round"/>
<polygon points="408,783.91 403.49,788.19 410.67,790.62 415.1,786.27" fill="#472c7a" stroke="#000" stroke-width="0.75" stroke-linejoin="round"/>
<polygon points="379.36,750.52 374.37,754.04 381.29,756.17 386.21,752.59" fill="#1f948c" stroke="#000" stroke-width="0.75" stroke-linejoin="round"/>
<polygon points="396.44,785.8 391.7,790.14 398.83,792.6 403.49,788.19" fill="#472c7a" stroke="#000" stroke-width="0.75" stroke-linejoin="round"/>
<polygon points="440.99,796.7 436.99,801.15 444.52,803.71 448.44,799.19" fill="#440256" stroke="#000" stroke-width="0.75" stroke-linejoin="round"/>
<polygon points="381.29,756.17 376.2,759.87 384.7,787.72 389.51,783.45" fill="#32648e" stroke="#000" stroke-width="0.75" stroke-linejoin="round"/>
<polygon points="415.1,786.27 410.67,790.62 417.97,793.09 422.33,788.66" fill="#472c7a" stroke="#000" stroke-width="0.75" stroke-linejoin="round"/>
<polygon points="422.33,788.66 417.97,793.09 425.36,803.15 429.59,798.63" fill="#48186a" stroke="#000" stroke-width="0.75" stroke-linejoin="round"/>
<polygon points="429.59,798.63 425.36,803.15 432.84,805.75 436.99,801.15" fill="#440154" stroke="#000" stroke-width="0.75" stroke-linejoin="round"/>
<polygon points="403.49,788.19 398.83,792.6 406.08,795.11 410.67,790.62" fill="#472c7a" stroke="#000" stroke-width="0.75" stroke-linejoin="round"/>
<polygon points="374.37,754.04 369.21,757.67 376.2,759.87 381.29,756.17" fill="#1f948c" stroke="#000" stroke-width="0.75" stroke-linejoin="round"/>
<polygon points="436.99,801.15 432.84,805.75 440.47,808.39 444.52,803.71" fill="#440154" stroke="#000" stroke-width="0.75" stroke-linejoin="round"/>
<polygon points="410.67,790.62 406.08,795.11 413.47,797.67 417.97,793.09" fill="#472c7a" stroke="#000" stroke-width="0.75" stroke-linejoin="round"/>
<polygon points="417.97,793.09 413.47,797.67 420.99,807.81 425.36,803.15" fill="#481769" stroke="#000" stroke-width="0.75" stroke-linejoin="round"/>
<polygon points="425.36,803.15 420.99,807.81 428.56,810.5 432.84,805.75" fill="#440154" stroke="#000" stroke-width="0.75" stroke-linejoin="round"/>
<polygon points="432.84,805.75 428.56,810.5 436.27,813.66 440.47,808.39" fill="#440154" stroke="#000" stroke-width="0.75" stroke-linejoin="round"/>
<line x1="366.75" y1="724.06" x2="437.87" y2="743.4" stroke="#222" stroke-width="1.0"/>
<line x1="437.87" y1="743.4" x2="473.8" y2="713.07" stroke="#222" stroke-width="1.0"/>
<line x1="366.75" y1="724.06" x2="371.59" y2="790.3" stroke="#222" stroke-width="1.0"/>
<line x1="437.87" y1="743.4" x2="436.27" y2="813.26" stroke="#222" stroke-width="1.0"/>
<line x1="473.8" y1="713.07" x2="469.43" y2="776.04" stroke="#222" stroke-width="1.0"/>
<line x1="371.59" y1="790.3" x2="436.27" y2="813.26" stroke="#222" stroke-width="1.0"/>
<line x1="436.27" y1="813.26" x2="469.43" y2="776.04" stroke="#222" stroke-width="1.0"/>
</g>
<rect x="337" y="674.5" width="165" height="164.2" fill="none" stroke="#5e5e5e" stroke-width="1.7"/>
<rect x="511.2" y="674.6" width="25.4" height="163.5" fill="url(#vir)" stroke="#111" stroke-width="1.2"/>
<line x1="536.6" x2="543.8" y1="820" y2="820" stroke="#3a3a3a" stroke-width="1.4"/>
<text transform="translate(549.4,826.3) scale(1,1.19)" class="cb">13</text>
<line x1="536.6" x2="543.8" y1="801.6" y2="801.6" stroke="#3a3a3a" stroke-width="1.4"/>
<text transform="translate(549.4,807.9) scale(1,1.19)" class="cb">14</text>
<line x1="536.6" x2="543.8" y1="783.2" y2="783.2" stroke="#3a3a3a" stroke-width="1.4"/>
<text transform="translate(549.4,789.5) scale(1,1.19)" class="cb">15</text>
<line x1="536.6" x2="543.8" y1="764.8" y2="764.8" stroke="#3a3a3a" stroke-width="1.4"/>
<text transform="translate(549.4,771.1) scale(1,1.19)" class="cb">16</text>
<line x1="536.6" x2="543.8" y1="746.4" y2="746.4" stroke="#3a3a3a" stroke-width="1.4"/>
<text transform="translate(549.4,752.7) scale(1,1.19)" class="cb">17</text>
<line x1="536.6" x2="543.8" y1="728" y2="728" stroke="#3a3a3a" stroke-width="1.4"/>
<text transform="translate(549.4,734.3) scale(1,1.19)" class="cb">18</text>
<line x1="536.6" x2="543.8" y1="709.6" y2="709.6" stroke="#3a3a3a" stroke-width="1.4"/>
<text transform="translate(549.4,715.9) scale(1,1.19)" class="cb">19</text>
<line x1="536.6" x2="543.8" y1="691.2" y2="691.2" stroke="#3a3a3a" stroke-width="1.4"/>
<text transform="translate(549.4,697.5) scale(1,1.19)" class="cb">20</text>
</svg>
</body></html>
